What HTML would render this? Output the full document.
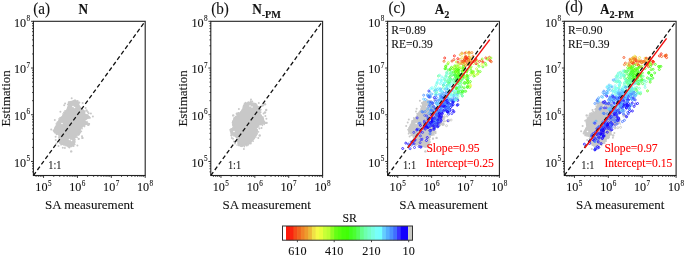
<!DOCTYPE html>
<html><head><meta charset="utf-8"><style>
html,body{margin:0;padding:0;background:#fff;width:685px;height:255px;overflow:hidden}
svg{display:block;filter:blur(0.3px)}
text{stroke:#111;stroke-width:0.1px}
text[fill="#f00"]{stroke:#f00}
</style></head><body>
<svg width="685" height="255" viewBox="0 0 685 255" font-family='"Liberation Serif", serif' fill="#111">
<polygon points="67.7,103.0 68.8,101.3 71.8,100.7 73.6,100.1 77.1,100.7 78.9,102.5 79.4,104.8 80.9,107.2 83.0,109.0 85.3,111.3 85.3,113.7 87.7,114.8 90.0,116.6 90.6,118.4 87.7,119.0 85.3,120.7 88.9,123.0 90.0,123.8 85.3,125.5 83.0,126.7 81.8,127.9 80.6,130.2 81.2,132.6 79.4,135.0 77.1,136.0 75.3,138.5 75.3,142.0 74.7,145.0 71.8,147.3 68.3,147.3 66.5,145.6 61.8,145.0 59.4,143.8 58.8,142.0 59.4,138.5 58.2,135.0 54.7,133.2 53.5,130.2 54.1,127.9 55.9,124.9 57.0,122.0 59.4,119.0 61.8,116.0 64.1,112.5 66.5,109.0 67.7,105.4" fill="#c8c8c8"/><g fill="#c8c8c8"><circle cx="68.8" cy="102.4" r="1.03"/><circle cx="69.9" cy="102.4" r="0.76"/><circle cx="71.3" cy="102.5" r="0.91"/><circle cx="73.7" cy="101.4" r="1.08"/><circle cx="71.7" cy="98.3" r="1.0"/><circle cx="74.7" cy="100.5" r="1.07"/><circle cx="75.3" cy="100.6" r="1.08"/><circle cx="76.8" cy="101.2" r="0.78"/><circle cx="77.6" cy="101.1" r="1.03"/><circle cx="77.7" cy="101.9" r="1.00"/><circle cx="79.3" cy="102.6" r="1.10"/><circle cx="78.2" cy="103.8" r="0.93"/><circle cx="82.6" cy="103.1" r="1.0"/><circle cx="78.6" cy="106.8" r="0.91"/><circle cx="80.1" cy="107.6" r="0.74"/><circle cx="81.2" cy="108.5" r="0.77"/><circle cx="80.6" cy="109.0" r="0.72"/><circle cx="82.6" cy="110.0" r="0.84"/><circle cx="84.2" cy="111.1" r="0.76"/><circle cx="85.6" cy="107.9" r="1.0"/><circle cx="84.8" cy="111.7" r="0.75"/><circle cx="83.7" cy="112.7" r="1.03"/><circle cx="88.7" cy="113.2" r="1.0"/><circle cx="85.7" cy="114.6" r="0.81"/><circle cx="86.6" cy="115.0" r="0.83"/><circle cx="87.8" cy="112.0" r="1.0"/><circle cx="87.6" cy="115.3" r="0.97"/><circle cx="88.6" cy="117.5" r="0.74"/><circle cx="90.9" cy="113.6" r="1.0"/><circle cx="89.2" cy="117.3" r="1.00"/><circle cx="92.9" cy="116.4" r="1.0"/><circle cx="90.0" cy="117.8" r="0.74"/><circle cx="88.2" cy="117.4" r="0.79"/><circle cx="86.0" cy="118.4" r="1.02"/><circle cx="84.2" cy="119.1" r="0.98"/><circle cx="84.6" cy="122.0" r="0.86"/><circle cx="87.0" cy="121.6" r="0.78"/><circle cx="87.6" cy="123.6" r="0.97"/><circle cx="89.4" cy="123.9" r="0.79"/><circle cx="89.1" cy="124.0" r="0.73"/><circle cx="88.0" cy="124.9" r="0.86"/><circle cx="86.8" cy="123.7" r="0.79"/><circle cx="85.3" cy="124.2" r="0.82"/><circle cx="84.6" cy="126.6" r="0.81"/><circle cx="83.6" cy="125.7" r="1.00"/><circle cx="81.9" cy="127.1" r="0.87"/><circle cx="82.0" cy="128.7" r="0.83"/><circle cx="80.4" cy="130.0" r="0.75"/><circle cx="79.4" cy="130.6" r="1.09"/><circle cx="81.4" cy="131.4" r="0.82"/><circle cx="79.6" cy="132.3" r="0.70"/><circle cx="78.6" cy="133.9" r="1.02"/><circle cx="82.0" cy="136.2" r="1.0"/><circle cx="78.6" cy="134.7" r="1.08"/><circle cx="76.6" cy="135.1" r="0.71"/><circle cx="77.0" cy="137.2" r="0.92"/><circle cx="75.6" cy="137.0" r="0.98"/><circle cx="78.6" cy="138.8" r="1.0"/><circle cx="73.9" cy="139.0" r="0.75"/><circle cx="74.7" cy="139.7" r="0.97"/><circle cx="74.4" cy="141.5" r="0.84"/><circle cx="78.7" cy="138.9" r="1.0"/><circle cx="74.9" cy="142.0" r="0.77"/><circle cx="74.8" cy="144.4" r="0.81"/><circle cx="77.4" cy="145.4" r="1.0"/><circle cx="73.6" cy="146.0" r="0.95"/><circle cx="73.4" cy="145.3" r="0.71"/><circle cx="71.6" cy="145.7" r="0.75"/><circle cx="71.3" cy="145.6" r="0.80"/><circle cx="69.4" cy="147.6" r="0.95"/><circle cx="68.9" cy="146.5" r="1.06"/><circle cx="68.3" cy="146.4" r="1.09"/><circle cx="66.8" cy="145.6" r="0.95"/><circle cx="64.9" cy="148.0" r="1.0"/><circle cx="66.3" cy="145.2" r="0.97"/><circle cx="65.1" cy="145.7" r="0.79"/><circle cx="63.8" cy="144.9" r="0.75"/><circle cx="63.5" cy="143.7" r="1.01"/><circle cx="62.8" cy="147.7" r="1.0"/><circle cx="61.1" cy="144.7" r="0.87"/><circle cx="60.3" cy="142.7" r="0.79"/><circle cx="58.5" cy="146.0" r="1.0"/><circle cx="59.8" cy="142.2" r="1.01"/><circle cx="56.4" cy="143.5" r="1.0"/><circle cx="60.1" cy="141.5" r="1.03"/><circle cx="59.8" cy="140.2" r="0.82"/><circle cx="60.9" cy="139.7" r="0.89"/><circle cx="55.7" cy="140.1" r="1.0"/><circle cx="58.8" cy="137.8" r="0.90"/><circle cx="59.9" cy="136.7" r="0.99"/><circle cx="59.2" cy="136.1" r="0.94"/><circle cx="55.6" cy="136.7" r="1.0"/><circle cx="57.6" cy="133.8" r="0.95"/><circle cx="56.6" cy="134.3" r="0.89"/><circle cx="56.1" cy="132.8" r="0.84"/><circle cx="55.0" cy="132.6" r="1.00"/><circle cx="54.1" cy="131.6" r="0.95"/><circle cx="53.6" cy="130.5" r="1.04"/><circle cx="55.8" cy="128.7" r="0.79"/><circle cx="51.2" cy="129.5" r="1.0"/><circle cx="55.5" cy="128.3" r="0.96"/><circle cx="55.8" cy="126.9" r="1.03"/><circle cx="57.1" cy="125.9" r="0.87"/><circle cx="56.2" cy="123.9" r="0.78"/><circle cx="57.4" cy="122.5" r="0.98"/><circle cx="58.1" cy="122.3" r="0.78"/><circle cx="59.0" cy="120.9" r="0.74"/><circle cx="59.7" cy="120.2" r="0.91"/><circle cx="54.8" cy="120.0" r="1.0"/><circle cx="59.1" cy="119.0" r="0.88"/><circle cx="60.2" cy="117.7" r="0.97"/><circle cx="62.0" cy="117.1" r="0.86"/><circle cx="63.1" cy="115.9" r="0.79"/><circle cx="62.8" cy="113.9" r="0.75"/><circle cx="64.1" cy="112.7" r="1.09"/><circle cx="60.4" cy="111.8" r="1.0"/><circle cx="65.0" cy="112.8" r="1.00"/><circle cx="65.1" cy="111.0" r="0.96"/><circle cx="67.6" cy="109.5" r="0.78"/><circle cx="67.8" cy="109.5" r="0.82"/><circle cx="68.1" cy="107.9" r="1.06"/><circle cx="69.0" cy="105.9" r="1.08"/><circle cx="64.2" cy="105.2" r="1.0"/><circle cx="67.6" cy="104.5" r="0.74"/><circle cx="69.6" cy="103.8" r="1.04"/><circle cx="65.1" cy="103.6" r="1.0"/><circle cx="82.4" cy="137.9" r="1.2"/><circle cx="71.2" cy="151.4" r="1.2"/><circle cx="86.5" cy="110.5" r="1.2"/><circle cx="88.5" cy="124.8" r="1.2"/></g><g fill="#fff"><circle cx="73.0" cy="106.5" r="0.8"/><circle cx="74.5" cy="107.5" r="0.8"/><circle cx="62.0" cy="123.5" r="0.8"/><circle cx="69.5" cy="139.5" r="0.8"/><circle cx="71.5" cy="140.5" r="0.8"/></g>
<path d="M36.05,175.50v1.3 M33.40,171.85h-1.3 M38.32,175.50v1.3 M33.40,168.72h-1.3 M40.28,175.50v1.3 M33.40,166.01h-1.3 M42.01,175.50v1.3 M33.40,163.62h-1.3 M43.56,175.50v2.4 M33.40,161.48h-2.4 M53.76,175.50v1.3 M33.40,147.42h-1.3 M59.73,175.50v1.3 M33.40,139.19h-1.3 M63.96,175.50v1.3 M33.40,133.35h-1.3 M67.24,175.50v1.3 M33.40,128.82h-1.3 M69.93,175.50v1.3 M33.40,125.12h-1.3 M72.19,175.50v1.3 M33.40,121.99h-1.3 M74.16,175.50v1.3 M33.40,119.28h-1.3 M75.89,175.50v1.3 M33.40,116.89h-1.3 M77.44,175.50v2.4 M33.40,114.75h-2.4 M87.64,175.50v1.3 M33.40,100.69h-1.3 M93.61,175.50v1.3 M33.40,92.46h-1.3 M97.84,175.50v1.3 M33.40,86.62h-1.3 M101.12,175.50v1.3 M33.40,82.09h-1.3 M103.81,175.50v1.3 M33.40,78.39h-1.3 M106.07,175.50v1.3 M33.40,75.27h-1.3 M108.04,175.50v1.3 M33.40,72.56h-1.3 M109.77,175.50v1.3 M33.40,70.17h-1.3 M111.32,175.50v2.4 M33.40,68.03h-2.4 M121.52,175.50v1.3 M33.40,53.96h-1.3 M127.49,175.50v1.3 M33.40,45.73h-1.3 M131.72,175.50v1.3 M33.40,39.89h-1.3 M135.00,175.50v1.3 M33.40,35.37h-1.3 M137.68,175.50v1.3 M33.40,31.67h-1.3 M139.95,175.50v1.3 M33.40,28.54h-1.3 M141.92,175.50v1.3 M33.40,25.83h-1.3 M143.65,175.50v1.3 M33.40,23.44h-1.3 M145.20,175.50v2.4 M33.40,21.30h-2.4" stroke="#222" stroke-width="0.9" fill="none"/>
<rect x="33.40" y="21.30" width="111.80" height="154.20" fill="none" stroke="#222" stroke-width="1.1"/>
<line x1="33.40" y1="175.50" x2="145.20" y2="21.30" stroke="#111" stroke-width="1.3" stroke-dasharray="4.2 2.6"/>
<text transform="translate(35.36,190.6) scale(1,1.1)" font-size="12.2">10</text><text x="47.96" y="186.0" font-size="7.2">5</text>
<text transform="translate(14.00,166.78) scale(1,1.1)" font-size="12.2">10</text><text x="26.60" y="161.18" font-size="7.2">5</text>
<text transform="translate(69.24,190.6) scale(1,1.1)" font-size="12.2">10</text><text x="81.84" y="186.0" font-size="7.2">6</text>
<text transform="translate(14.00,120.05) scale(1,1.1)" font-size="12.2">10</text><text x="26.60" y="114.45" font-size="7.2">6</text>
<text transform="translate(103.12,190.6) scale(1,1.1)" font-size="12.2">10</text><text x="115.72" y="186.0" font-size="7.2">7</text>
<text transform="translate(14.00,73.33) scale(1,1.1)" font-size="12.2">10</text><text x="26.60" y="67.73" font-size="7.2">7</text>
<text transform="translate(137.00,190.6) scale(1,1.1)" font-size="12.2">10</text><text x="149.60" y="186.0" font-size="7.2">8</text>
<text transform="translate(14.00,26.60) scale(1,1.1)" font-size="12.2">10</text><text x="26.60" y="21.00" font-size="7.2">8</text>
<text x="89.30" y="208.9" font-size="13" text-anchor="middle">SA measurement</text>
<text transform="translate(9.80,98.40) rotate(-90)" font-size="13" text-anchor="middle">Estimation</text>
<text transform="translate(48.20,169.2) scale(0.88,1)" font-size="11.8" fill="#222">1:1</text>
<polygon points="243.8,103.7 245.6,102.5 250.3,101.9 253.3,102.5 256.2,103.1 257.4,105.4 259.2,106.6 260.5,109.0 260.3,113.7 262.0,116.0 263.9,117.8 264.0,120.0 265.6,123.0 266.8,123.2 263.9,124.4 259.2,125.5 256.8,128.5 258.0,131.4 257.4,135.0 255.6,137.3 253.3,139.7 250.9,143.8 246.2,145.6 241.5,146.7 238.0,145.6 237.4,142.6 236.8,138.5 234.4,136.1 230.9,135.5 230.3,130.8 232.7,126.7 232.1,122.0 233.5,118.0 235.6,116.6 238.0,113.0 241.5,111.3 242.7,106.6" fill="#c8c8c8"/><g fill="#c8c8c8"><circle cx="244.5" cy="103.2" r="0.79"/><circle cx="245.6" cy="102.4" r="0.74"/><circle cx="247.7" cy="103.1" r="0.82"/><circle cx="248.4" cy="102.2" r="1.02"/><circle cx="250.6" cy="103.2" r="1.08"/><circle cx="250.7" cy="101.4" r="1.09"/><circle cx="252.2" cy="101.5" r="1.02"/><circle cx="251.0" cy="99.6" r="1.0"/><circle cx="253.1" cy="103.6" r="0.85"/><circle cx="254.7" cy="104.3" r="1.08"/><circle cx="255.9" cy="104.3" r="0.82"/><circle cx="256.8" cy="105.0" r="0.85"/><circle cx="258.8" cy="103.1" r="1.0"/><circle cx="257.6" cy="107.4" r="1.08"/><circle cx="259.8" cy="106.8" r="0.86"/><circle cx="259.2" cy="109.2" r="0.83"/><circle cx="262.2" cy="105.4" r="1.0"/><circle cx="260.8" cy="109.6" r="0.97"/><circle cx="260.1" cy="110.2" r="1.04"/><circle cx="260.7" cy="112.2" r="0.86"/><circle cx="260.0" cy="112.8" r="1.02"/><circle cx="260.5" cy="115.5" r="0.91"/><circle cx="261.2" cy="115.2" r="0.79"/><circle cx="263.6" cy="113.4" r="1.0"/><circle cx="261.9" cy="117.0" r="0.78"/><circle cx="263.0" cy="116.9" r="0.75"/><circle cx="265.4" cy="116.1" r="1.0"/><circle cx="262.5" cy="118.4" r="0.72"/><circle cx="263.3" cy="120.0" r="1.05"/><circle cx="266.4" cy="118.7" r="1.0"/><circle cx="263.5" cy="121.4" r="1.10"/><circle cx="264.4" cy="122.0" r="0.97"/><circle cx="264.7" cy="122.4" r="0.89"/><circle cx="265.5" cy="122.9" r="0.93"/><circle cx="266.7" cy="122.9" r="1.07"/><circle cx="264.3" cy="124.5" r="0.71"/><circle cx="262.5" cy="125.5" r="0.77"/><circle cx="261.7" cy="123.5" r="1.03"/><circle cx="261.1" cy="124.7" r="0.74"/><circle cx="259.6" cy="124.6" r="0.74"/><circle cx="258.8" cy="126.9" r="0.78"/><circle cx="257.3" cy="126.9" r="0.91"/><circle cx="256.9" cy="127.5" r="0.85"/><circle cx="261.5" cy="128.0" r="1.0"/><circle cx="257.1" cy="129.7" r="0.77"/><circle cx="257.1" cy="130.3" r="1.06"/><circle cx="259.4" cy="128.5" r="1.0"/><circle cx="258.5" cy="131.8" r="0.85"/><circle cx="256.8" cy="133.0" r="0.79"/><circle cx="257.0" cy="133.8" r="0.82"/><circle cx="255.6" cy="134.8" r="1.05"/><circle cx="255.2" cy="135.8" r="0.71"/><circle cx="258.3" cy="138.1" r="1.0"/><circle cx="255.9" cy="137.3" r="0.73"/><circle cx="254.5" cy="138.4" r="0.70"/><circle cx="253.4" cy="139.2" r="1.07"/><circle cx="251.9" cy="140.3" r="0.89"/><circle cx="253.1" cy="141.1" r="0.96"/><circle cx="250.0" cy="142.0" r="0.96"/><circle cx="250.7" cy="143.5" r="1.07"/><circle cx="250.0" cy="142.4" r="1.04"/><circle cx="248.3" cy="144.3" r="0.92"/><circle cx="247.9" cy="145.5" r="0.71"/><circle cx="246.6" cy="145.4" r="1.05"/><circle cx="246.1" cy="143.6" r="0.97"/><circle cx="244.3" cy="146.5" r="0.91"/><circle cx="242.7" cy="145.3" r="0.72"/><circle cx="241.9" cy="146.1" r="1.04"/><circle cx="243.9" cy="149.1" r="1.0"/><circle cx="240.8" cy="145.5" r="0.91"/><circle cx="240.6" cy="145.9" r="0.97"/><circle cx="238.9" cy="145.4" r="0.90"/><circle cx="237.1" cy="145.1" r="0.80"/><circle cx="238.3" cy="143.4" r="0.95"/><circle cx="235.0" cy="143.5" r="1.0"/><circle cx="237.2" cy="141.2" r="1.07"/><circle cx="238.2" cy="140.7" r="0.80"/><circle cx="236.8" cy="139.8" r="0.71"/><circle cx="234.0" cy="141.6" r="1.0"/><circle cx="236.6" cy="137.0" r="0.88"/><circle cx="235.8" cy="136.6" r="0.79"/><circle cx="235.2" cy="135.7" r="1.07"/><circle cx="233.0" cy="138.7" r="1.0"/><circle cx="233.9" cy="136.0" r="0.76"/><circle cx="233.5" cy="134.3" r="0.94"/><circle cx="231.5" cy="136.1" r="0.76"/><circle cx="231.8" cy="137.9" r="1.0"/><circle cx="231.2" cy="135.2" r="1.02"/><circle cx="231.2" cy="133.6" r="0.74"/><circle cx="230.8" cy="131.8" r="0.96"/><circle cx="230.5" cy="131.6" r="0.70"/><circle cx="230.4" cy="129.9" r="1.09"/><circle cx="231.4" cy="129.0" r="1.08"/><circle cx="233.5" cy="128.6" r="1.02"/><circle cx="234.2" cy="127.8" r="0.93"/><circle cx="233.5" cy="125.6" r="1.10"/><circle cx="233.3" cy="125.4" r="0.92"/><circle cx="232.9" cy="124.2" r="1.04"/><circle cx="232.3" cy="122.8" r="0.73"/><circle cx="232.9" cy="121.5" r="0.97"/><circle cx="233.6" cy="120.4" r="0.84"/><circle cx="234.8" cy="119.2" r="0.97"/><circle cx="234.4" cy="118.1" r="1.02"/><circle cx="235.7" cy="117.5" r="1.05"/><circle cx="235.6" cy="116.6" r="0.90"/><circle cx="238.1" cy="115.6" r="0.86"/><circle cx="238.3" cy="113.5" r="0.81"/><circle cx="238.3" cy="113.1" r="1.03"/><circle cx="240.4" cy="113.8" r="0.75"/><circle cx="241.1" cy="111.7" r="0.95"/><circle cx="238.9" cy="108.9" r="1.0"/><circle cx="242.6" cy="111.3" r="0.72"/><circle cx="242.1" cy="110.4" r="1.08"/><circle cx="244.0" cy="109.3" r="0.74"/><circle cx="244.0" cy="107.9" r="0.78"/><circle cx="243.7" cy="105.9" r="0.96"/><circle cx="244.8" cy="105.5" r="0.86"/><circle cx="236.8" cy="113.7" r="1.2"/><circle cx="233.2" cy="115.4" r="1.2"/><circle cx="265.0" cy="104.2" r="1.2"/><circle cx="262.7" cy="105.4" r="1.2"/><circle cx="266.2" cy="110.0" r="1.2"/><circle cx="265.0" cy="112.5" r="1.2"/><circle cx="259.7" cy="135.5" r="1.2"/></g><g fill="#fff"><circle cx="250.0" cy="106.0" r="0.8"/><circle cx="252.0" cy="107.0" r="0.8"/><circle cx="234.0" cy="131.5" r="0.8"/></g>
<path d="M213.45,175.50v1.3 M210.80,171.85h-1.3 M215.72,175.50v1.3 M210.80,168.72h-1.3 M217.68,175.50v1.3 M210.80,166.01h-1.3 M219.41,175.50v1.3 M210.80,163.62h-1.3 M220.96,175.50v2.4 M210.80,161.48h-2.4 M231.16,175.50v1.3 M210.80,147.42h-1.3 M237.13,175.50v1.3 M210.80,139.19h-1.3 M241.36,175.50v1.3 M210.80,133.35h-1.3 M244.64,175.50v1.3 M210.80,128.82h-1.3 M247.33,175.50v1.3 M210.80,125.12h-1.3 M249.59,175.50v1.3 M210.80,121.99h-1.3 M251.56,175.50v1.3 M210.80,119.28h-1.3 M253.29,175.50v1.3 M210.80,116.89h-1.3 M254.84,175.50v2.4 M210.80,114.75h-2.4 M265.04,175.50v1.3 M210.80,100.69h-1.3 M271.01,175.50v1.3 M210.80,92.46h-1.3 M275.24,175.50v1.3 M210.80,86.62h-1.3 M278.52,175.50v1.3 M210.80,82.09h-1.3 M281.21,175.50v1.3 M210.80,78.39h-1.3 M283.47,175.50v1.3 M210.80,75.27h-1.3 M285.44,175.50v1.3 M210.80,72.56h-1.3 M287.17,175.50v1.3 M210.80,70.17h-1.3 M288.72,175.50v2.4 M210.80,68.03h-2.4 M298.92,175.50v1.3 M210.80,53.96h-1.3 M304.89,175.50v1.3 M210.80,45.73h-1.3 M309.12,175.50v1.3 M210.80,39.89h-1.3 M312.40,175.50v1.3 M210.80,35.37h-1.3 M315.08,175.50v1.3 M210.80,31.67h-1.3 M317.35,175.50v1.3 M210.80,28.54h-1.3 M319.32,175.50v1.3 M210.80,25.83h-1.3 M321.05,175.50v1.3 M210.80,23.44h-1.3 M322.60,175.50v2.4 M210.80,21.30h-2.4" stroke="#222" stroke-width="0.9" fill="none"/>
<rect x="210.80" y="21.30" width="111.80" height="154.20" fill="none" stroke="#222" stroke-width="1.1"/>
<line x1="210.80" y1="175.50" x2="322.60" y2="21.30" stroke="#111" stroke-width="1.3" stroke-dasharray="4.2 2.6"/>
<text transform="translate(212.76,190.6) scale(1,1.1)" font-size="12.2">10</text><text x="225.36" y="186.0" font-size="7.2">5</text>
<text transform="translate(191.40,166.78) scale(1,1.1)" font-size="12.2">10</text><text x="204.00" y="161.18" font-size="7.2">5</text>
<text transform="translate(246.64,190.6) scale(1,1.1)" font-size="12.2">10</text><text x="259.24" y="186.0" font-size="7.2">6</text>
<text transform="translate(191.40,120.05) scale(1,1.1)" font-size="12.2">10</text><text x="204.00" y="114.45" font-size="7.2">6</text>
<text transform="translate(280.52,190.6) scale(1,1.1)" font-size="12.2">10</text><text x="293.12" y="186.0" font-size="7.2">7</text>
<text transform="translate(191.40,73.33) scale(1,1.1)" font-size="12.2">10</text><text x="204.00" y="67.73" font-size="7.2">7</text>
<text transform="translate(314.40,190.6) scale(1,1.1)" font-size="12.2">10</text><text x="327.00" y="186.0" font-size="7.2">8</text>
<text transform="translate(191.40,26.60) scale(1,1.1)" font-size="12.2">10</text><text x="204.00" y="21.00" font-size="7.2">8</text>
<text x="266.70" y="208.9" font-size="13" text-anchor="middle">SA measurement</text>
<text transform="translate(187.20,98.40) rotate(-90)" font-size="13" text-anchor="middle">Estimation</text>
<text transform="translate(227.90,169.2) scale(0.88,1)" font-size="11.8" fill="#222">1:1</text>
<polygon points="421.9,103.0 423.0,101.3 426.0,100.7 427.8,100.1 431.3,100.7 433.1,102.5 433.6,104.8 435.1,107.2 437.2,109.0 439.5,111.3 439.5,113.7 441.9,114.8 444.2,116.6 444.8,118.4 441.9,119.0 439.5,120.7 443.1,123.0 444.2,123.8 439.5,125.5 437.2,126.7 436.0,127.9 434.8,130.2 435.4,132.6 433.6,135.0 431.3,136.0 429.5,138.5 429.5,142.0 428.9,145.0 426.0,147.3 422.5,147.3 420.7,145.6 416.0,145.0 413.6,143.8 413.0,142.0 413.6,138.5 412.4,135.0 408.9,133.2 407.7,130.2 408.3,127.9 410.1,124.9 411.2,122.0 413.6,119.0 416.0,116.0 418.3,112.5 420.7,109.0 421.9,105.4" fill="#c8c8c8"/><g fill="#c8c8c8"><circle cx="423.5" cy="101.6" r="0.78"/><circle cx="419.9" cy="100.7" r="1.0"/><circle cx="424.7" cy="101.8" r="0.96"/><circle cx="424.5" cy="102.6" r="0.97"/><circle cx="427.3" cy="100.1" r="0.82"/><circle cx="428.7" cy="101.4" r="0.74"/><circle cx="429.5" cy="101.6" r="0.81"/><circle cx="431.4" cy="101.2" r="0.80"/><circle cx="430.1" cy="96.9" r="1.0"/><circle cx="431.4" cy="100.9" r="0.79"/><circle cx="433.3" cy="102.8" r="0.80"/><circle cx="434.1" cy="100.1" r="1.0"/><circle cx="432.5" cy="103.6" r="0.72"/><circle cx="432.3" cy="105.0" r="0.76"/><circle cx="433.4" cy="106.3" r="0.81"/><circle cx="434.4" cy="106.7" r="0.88"/><circle cx="434.8" cy="108.7" r="0.89"/><circle cx="436.9" cy="108.7" r="1.05"/><circle cx="437.8" cy="109.0" r="0.72"/><circle cx="439.1" cy="111.0" r="0.74"/><circle cx="440.8" cy="108.2" r="1.0"/><circle cx="439.6" cy="112.8" r="0.71"/><circle cx="438.9" cy="113.7" r="0.84"/><circle cx="440.8" cy="114.4" r="0.77"/><circle cx="441.1" cy="114.7" r="0.97"/><circle cx="441.6" cy="115.3" r="0.70"/><circle cx="443.9" cy="117.0" r="1.05"/><circle cx="444.7" cy="117.8" r="0.85"/><circle cx="447.2" cy="116.4" r="1.0"/><circle cx="443.6" cy="117.7" r="0.84"/><circle cx="442.8" cy="119.5" r="0.83"/><circle cx="440.7" cy="118.7" r="0.99"/><circle cx="440.3" cy="119.5" r="0.79"/><circle cx="443.5" cy="121.7" r="1.0"/><circle cx="440.1" cy="121.9" r="0.78"/><circle cx="440.5" cy="122.4" r="0.98"/><circle cx="441.9" cy="124.1" r="0.74"/><circle cx="443.8" cy="119.6" r="1.0"/><circle cx="443.7" cy="124.5" r="0.96"/><circle cx="444.9" cy="121.3" r="1.0"/><circle cx="443.7" cy="123.8" r="0.87"/><circle cx="442.7" cy="123.7" r="0.88"/><circle cx="440.6" cy="124.2" r="1.05"/><circle cx="440.0" cy="125.4" r="0.96"/><circle cx="439.2" cy="124.6" r="0.96"/><circle cx="437.4" cy="124.9" r="1.02"/><circle cx="435.6" cy="126.6" r="0.86"/><circle cx="435.0" cy="128.3" r="1.00"/><circle cx="434.4" cy="129.6" r="1.07"/><circle cx="434.0" cy="130.3" r="1.05"/><circle cx="435.6" cy="131.5" r="0.93"/><circle cx="435.6" cy="133.1" r="1.07"/><circle cx="433.9" cy="134.8" r="0.89"/><circle cx="432.6" cy="134.1" r="0.85"/><circle cx="432.0" cy="135.1" r="0.86"/><circle cx="432.9" cy="138.8" r="1.0"/><circle cx="430.0" cy="136.3" r="1.01"/><circle cx="429.7" cy="137.4" r="1.09"/><circle cx="433.1" cy="138.4" r="1.0"/><circle cx="429.7" cy="139.8" r="0.90"/><circle cx="427.5" cy="139.8" r="0.85"/><circle cx="430.0" cy="141.9" r="0.99"/><circle cx="429.4" cy="143.3" r="0.73"/><circle cx="429.8" cy="144.7" r="0.94"/><circle cx="428.7" cy="145.6" r="0.87"/><circle cx="427.2" cy="146.7" r="0.80"/><circle cx="425.7" cy="145.9" r="0.98"/><circle cx="426.1" cy="146.9" r="0.81"/><circle cx="425.1" cy="146.9" r="0.86"/><circle cx="422.7" cy="145.8" r="1.06"/><circle cx="422.6" cy="146.2" r="0.92"/><circle cx="421.2" cy="145.5" r="1.04"/><circle cx="420.8" cy="144.2" r="1.02"/><circle cx="419.6" cy="145.5" r="1.07"/><circle cx="418.4" cy="143.7" r="0.92"/><circle cx="416.8" cy="144.2" r="0.84"/><circle cx="415.7" cy="145.2" r="1.04"/><circle cx="414.4" cy="144.4" r="0.95"/><circle cx="415.2" cy="143.0" r="0.91"/><circle cx="410.1" cy="144.7" r="1.0"/><circle cx="414.0" cy="141.1" r="0.79"/><circle cx="413.0" cy="140.5" r="0.75"/><circle cx="414.0" cy="139.3" r="0.90"/><circle cx="415.0" cy="137.8" r="0.94"/><circle cx="413.3" cy="136.7" r="0.94"/><circle cx="412.9" cy="135.0" r="0.99"/><circle cx="411.2" cy="135.2" r="1.04"/><circle cx="411.4" cy="132.7" r="0.71"/><circle cx="408.6" cy="133.7" r="0.90"/><circle cx="409.6" cy="136.5" r="1.0"/><circle cx="409.0" cy="132.0" r="0.77"/><circle cx="408.2" cy="129.8" r="0.77"/><circle cx="408.1" cy="129.6" r="0.83"/><circle cx="409.8" cy="128.8" r="0.86"/><circle cx="408.9" cy="127.9" r="0.72"/><circle cx="409.9" cy="126.9" r="0.91"/><circle cx="410.3" cy="126.2" r="0.82"/><circle cx="406.2" cy="126.1" r="1.0"/><circle cx="410.3" cy="125.0" r="0.79"/><circle cx="412.6" cy="123.3" r="0.89"/><circle cx="407.7" cy="122.4" r="1.0"/><circle cx="412.6" cy="121.5" r="1.03"/><circle cx="412.3" cy="121.1" r="1.09"/><circle cx="414.2" cy="119.8" r="0.79"/><circle cx="408.8" cy="119.6" r="1.0"/><circle cx="413.8" cy="118.0" r="0.89"/><circle cx="415.5" cy="118.8" r="1.06"/><circle cx="416.8" cy="117.3" r="0.70"/><circle cx="417.2" cy="116.7" r="0.84"/><circle cx="417.2" cy="113.7" r="0.94"/><circle cx="417.9" cy="113.9" r="0.84"/><circle cx="416.0" cy="111.5" r="1.0"/><circle cx="419.2" cy="112.5" r="0.91"/><circle cx="420.6" cy="110.8" r="1.00"/><circle cx="421.3" cy="111.0" r="0.70"/><circle cx="416.6" cy="108.7" r="1.0"/><circle cx="421.1" cy="108.9" r="0.88"/><circle cx="421.7" cy="107.6" r="0.99"/><circle cx="420.8" cy="106.1" r="0.88"/><circle cx="423.0" cy="104.5" r="1.07"/><circle cx="421.9" cy="103.0" r="1.00"/><circle cx="436.6" cy="137.9" r="1.2"/><circle cx="425.4" cy="151.4" r="1.2"/><circle cx="440.7" cy="110.5" r="1.2"/><circle cx="442.7" cy="124.8" r="1.2"/></g><g fill="#fff"><circle cx="427.2" cy="106.5" r="0.8"/><circle cx="428.7" cy="107.5" r="0.8"/><circle cx="416.2" cy="123.5" r="0.8"/><circle cx="423.7" cy="139.5" r="0.8"/><circle cx="425.7" cy="140.5" r="0.8"/></g>
<g fill="none" stroke-width="0.8"><circle cx="445.5" cy="99.6" r="1.0" stroke="#55afff"/><circle cx="449.5" cy="83.3" r="1.0" stroke="#78ffe1"/><circle cx="426.4" cy="140.5" r="1.0" stroke="#1400ff"/><circle cx="468.7" cy="57.4" r="1.0" stroke="#ff190a"/><circle cx="459.0" cy="87.3" r="1.0" stroke="#6effaf"/><circle cx="464.2" cy="68.2" r="1.0" stroke="#8cff23"/><circle cx="476.7" cy="60.9" r="1.0" stroke="#b9ff32"/><circle cx="434.0" cy="111.5" r="1.0" stroke="#416eff"/><circle cx="475.2" cy="75.6" r="1.0" stroke="#c8ff37"/><circle cx="435.6" cy="108.7" r="1.0" stroke="#1400ff"/><circle cx="468.5" cy="59.3" r="1.0" stroke="#fa230f"/><circle cx="458.1" cy="96.2" r="1.0" stroke="#73ffc8"/><circle cx="454.9" cy="75.0" r="1.0" stroke="#4bff32"/><circle cx="470.9" cy="70.1" r="1.0" stroke="#64ff14"/><circle cx="457.1" cy="77.8" r="1.0" stroke="#41ff05"/><circle cx="467.5" cy="64.3" r="1.0" stroke="#c8ff37"/><circle cx="437.3" cy="111.3" r="1.0" stroke="#64cdff"/><circle cx="429.8" cy="130.5" r="1.0" stroke="#1400ff"/><circle cx="411.4" cy="145.1" r="1.0" stroke="#416eff"/><circle cx="436.4" cy="124.0" r="1.0" stroke="#4b91ff"/><circle cx="482.2" cy="59.0" r="1.0" stroke="#8cff23"/><circle cx="464.0" cy="63.0" r="1.0" stroke="#ee9b2d"/><circle cx="443.3" cy="85.2" r="1.0" stroke="#78fffa"/><circle cx="449.6" cy="90.4" r="1.0" stroke="#73ffff"/><circle cx="447.2" cy="96.9" r="1.0" stroke="#3732ff"/><circle cx="469.5" cy="63.4" r="1.0" stroke="#f08228"/><circle cx="462.7" cy="61.6" r="1.0" stroke="#ebb937"/><circle cx="454.3" cy="78.7" r="1.0" stroke="#55ff5a"/><circle cx="428.2" cy="118.8" r="1.0" stroke="#1400ff"/><circle cx="465.7" cy="91.3" r="1.0" stroke="#41ff05"/><circle cx="434.6" cy="118.3" r="1.0" stroke="#416eff"/><circle cx="452.6" cy="68.5" r="1.0" stroke="#8cff23"/><circle cx="466.8" cy="71.5" r="1.0" stroke="#55ff0f"/><circle cx="452.2" cy="89.8" r="1.0" stroke="#64cdff"/><circle cx="434.9" cy="93.8" r="1.0" stroke="#78ffe1"/><circle cx="442.6" cy="103.4" r="1.0" stroke="#4b91ff"/><circle cx="459.2" cy="68.3" r="1.0" stroke="#41ff05"/><circle cx="442.7" cy="98.0" r="1.0" stroke="#3732ff"/><circle cx="432.3" cy="119.4" r="1.0" stroke="#416eff"/><circle cx="467.5" cy="79.7" r="1.0" stroke="#8cff23"/><circle cx="462.8" cy="69.0" r="1.0" stroke="#64ff14"/><circle cx="425.4" cy="125.7" r="1.0" stroke="#1400ff"/><circle cx="420.1" cy="123.2" r="1.0" stroke="#4b91ff"/><circle cx="434.9" cy="122.4" r="1.0" stroke="#1400ff"/><circle cx="450.0" cy="109.7" r="1.0" stroke="#3732ff"/><circle cx="431.1" cy="106.8" r="1.0" stroke="#55afff"/><circle cx="448.0" cy="80.6" r="1.0" stroke="#55ff5a"/><circle cx="460.2" cy="59.5" r="1.0" stroke="#ebb937"/><circle cx="439.5" cy="113.7" r="1.0" stroke="#1400ff"/><circle cx="457.7" cy="98.9" r="1.0" stroke="#6effaf"/><circle cx="427.7" cy="109.2" r="1.0" stroke="#55afff"/><circle cx="456.4" cy="97.9" r="1.0" stroke="#64cdff"/><circle cx="458.2" cy="66.0" r="1.0" stroke="#8cff23"/><circle cx="443.5" cy="85.2" r="1.0" stroke="#78ffe1"/><circle cx="463.8" cy="76.6" r="1.0" stroke="#55ff0f"/><circle cx="443.2" cy="97.5" r="1.0" stroke="#4b91ff"/><circle cx="442.4" cy="113.7" r="1.0" stroke="#1400ff"/><circle cx="467.5" cy="59.4" r="1.0" stroke="#ee9b2d"/><circle cx="458.9" cy="73.2" r="1.0" stroke="#41ff05"/><circle cx="446.0" cy="75.9" r="1.0" stroke="#73ffc8"/><circle cx="440.1" cy="90.7" r="1.0" stroke="#78fffa"/><circle cx="448.6" cy="82.6" r="1.0" stroke="#78ffe1"/><circle cx="458.8" cy="90.8" r="1.0" stroke="#64ff8c"/><circle cx="438.4" cy="76.0" r="1.0" stroke="#64ff8c"/><circle cx="456.2" cy="82.6" r="1.0" stroke="#73ffc8"/><circle cx="460.7" cy="80.5" r="1.0" stroke="#55ff5a"/><circle cx="457.8" cy="58.7" r="1.0" stroke="#ff190a"/><circle cx="462.2" cy="93.3" r="1.0" stroke="#55ff5a"/><circle cx="452.8" cy="101.3" r="1.0" stroke="#4b91ff"/><circle cx="427.5" cy="94.9" r="1.0" stroke="#4b91ff"/><circle cx="445.2" cy="89.2" r="1.0" stroke="#4b91ff"/><circle cx="432.1" cy="103.0" r="1.0" stroke="#3732ff"/><circle cx="457.2" cy="105.1" r="1.0" stroke="#3732ff"/><circle cx="445.7" cy="103.8" r="1.0" stroke="#3732ff"/><circle cx="422.7" cy="112.0" r="1.0" stroke="#416eff"/><circle cx="447.9" cy="112.8" r="1.0" stroke="#55afff"/><circle cx="425.4" cy="99.6" r="1.0" stroke="#55afff"/><circle cx="466.9" cy="58.3" r="1.0" stroke="#f54b19"/><circle cx="441.4" cy="102.3" r="1.0" stroke="#4b91ff"/><circle cx="447.5" cy="95.4" r="1.0" stroke="#55afff"/><circle cx="438.5" cy="125.8" r="1.0" stroke="#416eff"/><circle cx="450.1" cy="98.3" r="1.0" stroke="#73ffff"/><circle cx="440.7" cy="94.8" r="1.0" stroke="#55afff"/><circle cx="431.9" cy="118.6" r="1.0" stroke="#1400ff"/><circle cx="458.3" cy="71.4" r="1.0" stroke="#64ff14"/><circle cx="424.9" cy="126.5" r="1.0" stroke="#3732ff"/><circle cx="436.3" cy="84.6" r="1.0" stroke="#78fffa"/><circle cx="439.3" cy="108.5" r="1.0" stroke="#1400ff"/><circle cx="442.2" cy="111.8" r="1.0" stroke="#1400ff"/><circle cx="460.7" cy="91.5" r="1.0" stroke="#41ff05"/><circle cx="455.9" cy="74.8" r="1.0" stroke="#8cff23"/><circle cx="449.5" cy="111.1" r="1.0" stroke="#1400ff"/><circle cx="475.1" cy="60.4" r="1.0" stroke="#fa230f"/><circle cx="430.8" cy="114.4" r="1.0" stroke="#1400ff"/><circle cx="451.9" cy="101.0" r="1.0" stroke="#1400ff"/><circle cx="446.4" cy="108.1" r="1.0" stroke="#1400ff"/><circle cx="450.3" cy="76.4" r="1.0" stroke="#4bff32"/><circle cx="466.2" cy="52.2" r="1.0" stroke="#f0e146"/><circle cx="440.7" cy="79.9" r="1.0" stroke="#73ffff"/><circle cx="453.5" cy="80.2" r="1.0" stroke="#55ff5a"/><circle cx="444.7" cy="106.9" r="1.0" stroke="#416eff"/><circle cx="471.2" cy="72.6" r="1.0" stroke="#55ff0f"/><circle cx="446.6" cy="107.6" r="1.0" stroke="#1400ff"/><circle cx="465.6" cy="65.6" r="1.0" stroke="#e6ff3c"/><circle cx="450.1" cy="99.7" r="1.0" stroke="#4b91ff"/><circle cx="444.1" cy="102.3" r="1.0" stroke="#4b91ff"/><circle cx="447.5" cy="120.8" r="1.0" stroke="#c8c8c4"/><circle cx="455.6" cy="71.8" r="1.0" stroke="#55ff0f"/><circle cx="449.7" cy="74.1" r="1.0" stroke="#6effaf"/><circle cx="448.0" cy="98.4" r="1.0" stroke="#55afff"/><circle cx="435.8" cy="114.5" r="1.0" stroke="#416eff"/><circle cx="489.4" cy="57.3" r="1.0" stroke="#f0641e"/><circle cx="457.1" cy="83.3" r="1.0" stroke="#73ffc8"/><circle cx="467.1" cy="87.0" r="1.0" stroke="#55ff5a"/><circle cx="469.5" cy="61.9" r="1.0" stroke="#f0641e"/><circle cx="447.9" cy="94.3" r="1.0" stroke="#64cdff"/><circle cx="444.4" cy="100.4" r="1.0" stroke="#3732ff"/><circle cx="457.3" cy="94.2" r="1.0" stroke="#64ff8c"/><circle cx="449.7" cy="100.1" r="1.0" stroke="#416eff"/><circle cx="440.2" cy="122.3" r="1.0" stroke="#c8c8c4"/><circle cx="461.6" cy="86.8" r="1.0" stroke="#4bff32"/><circle cx="420.4" cy="135.9" r="1.0" stroke="#3732ff"/><circle cx="439.5" cy="75.2" r="1.0" stroke="#78ffe1"/><circle cx="428.0" cy="96.0" r="1.0" stroke="#64cdff"/><circle cx="420.8" cy="132.0" r="1.0" stroke="#3732ff"/><circle cx="433.1" cy="125.5" r="1.0" stroke="#1400ff"/><circle cx="440.3" cy="121.9" r="1.0" stroke="#1400ff"/><circle cx="464.2" cy="91.3" r="1.0" stroke="#55ff5a"/><circle cx="445.8" cy="81.7" r="1.0" stroke="#73ffc8"/><circle cx="432.0" cy="122.4" r="1.0" stroke="#1400ff"/><circle cx="440.0" cy="116.6" r="1.0" stroke="#4b91ff"/><circle cx="436.0" cy="108.0" r="1.0" stroke="#55afff"/><circle cx="458.1" cy="70.0" r="1.0" stroke="#55ff0f"/><circle cx="441.5" cy="98.3" r="1.0" stroke="#64cdff"/><circle cx="464.7" cy="82.3" r="1.0" stroke="#64ff8c"/><circle cx="455.2" cy="69.6" r="1.0" stroke="#46ff0a"/><circle cx="433.9" cy="122.0" r="1.0" stroke="#1400ff"/><circle cx="434.7" cy="91.1" r="1.0" stroke="#64cdff"/><circle cx="429.7" cy="126.4" r="1.0" stroke="#1400ff"/><circle cx="431.6" cy="124.2" r="1.0" stroke="#4b91ff"/><circle cx="444.2" cy="104.1" r="1.0" stroke="#1400ff"/><circle cx="448.2" cy="120.7" r="1.0" stroke="#1400ff"/><circle cx="467.8" cy="78.7" r="1.0" stroke="#55ff5a"/><circle cx="437.0" cy="126.2" r="1.0" stroke="#3732ff"/><circle cx="424.3" cy="126.8" r="1.0" stroke="#1400ff"/><circle cx="441.0" cy="100.2" r="1.0" stroke="#416eff"/><circle cx="446.5" cy="103.5" r="1.0" stroke="#1400ff"/><circle cx="454.1" cy="95.1" r="1.0" stroke="#416eff"/><circle cx="442.8" cy="105.3" r="1.0" stroke="#416eff"/><circle cx="458.0" cy="67.5" r="1.0" stroke="#c8ff37"/><circle cx="446.9" cy="111.5" r="1.0" stroke="#1400ff"/><circle cx="444.6" cy="96.0" r="1.0" stroke="#55afff"/><circle cx="465.5" cy="56.3" r="1.0" stroke="#ebb937"/><circle cx="460.3" cy="54.7" r="1.0" stroke="#ebb937"/><circle cx="467.3" cy="63.0" r="1.0" stroke="#f54b19"/><circle cx="429.6" cy="91.9" r="1.0" stroke="#64cdff"/><circle cx="443.9" cy="102.4" r="1.0" stroke="#4b91ff"/><circle cx="458.2" cy="83.5" r="1.0" stroke="#41ff1e"/><circle cx="447.5" cy="77.8" r="1.0" stroke="#78ffe1"/><circle cx="456.8" cy="77.8" r="1.0" stroke="#55ff5a"/><circle cx="460.1" cy="87.0" r="1.0" stroke="#73ffc8"/><circle cx="450.6" cy="73.1" r="1.0" stroke="#64ff8c"/><circle cx="433.7" cy="129.4" r="1.0" stroke="#3732ff"/><circle cx="427.6" cy="127.5" r="1.0" stroke="#1400ff"/><circle cx="468.6" cy="64.5" r="1.0" stroke="#f08228"/><circle cx="433.9" cy="125.8" r="1.0" stroke="#1400ff"/><circle cx="450.5" cy="79.1" r="1.0" stroke="#55ff5a"/><circle cx="434.2" cy="118.6" r="1.0" stroke="#1400ff"/><circle cx="452.7" cy="74.6" r="1.0" stroke="#55ff5a"/><circle cx="427.2" cy="123.8" r="1.0" stroke="#1400ff"/><circle cx="432.2" cy="110.8" r="1.0" stroke="#3732ff"/><circle cx="434.4" cy="110.7" r="1.0" stroke="#416eff"/><circle cx="425.2" cy="111.5" r="1.0" stroke="#4b91ff"/><circle cx="460.9" cy="63.1" r="1.0" stroke="#ebb937"/><circle cx="463.3" cy="74.7" r="1.0" stroke="#41ff1e"/><circle cx="431.8" cy="125.3" r="1.0" stroke="#1400ff"/><circle cx="457.7" cy="100.4" r="1.0" stroke="#1400ff"/><circle cx="448.7" cy="110.7" r="1.0" stroke="#416eff"/><circle cx="447.6" cy="111.6" r="1.0" stroke="#1400ff"/><circle cx="445.7" cy="101.7" r="1.0" stroke="#1400ff"/><circle cx="457.7" cy="74.2" r="1.0" stroke="#64ff14"/><circle cx="453.9" cy="111.8" r="1.0" stroke="#1400ff"/><circle cx="462.6" cy="78.7" r="1.0" stroke="#55ff5a"/><circle cx="456.3" cy="99.2" r="1.0" stroke="#4b91ff"/><circle cx="427.9" cy="126.6" r="1.0" stroke="#4b91ff"/><circle cx="465.8" cy="78.4" r="1.0" stroke="#4bff32"/><circle cx="445.6" cy="109.1" r="1.0" stroke="#4b91ff"/><circle cx="449.4" cy="103.8" r="1.0" stroke="#64cdff"/><circle cx="451.1" cy="79.1" r="1.0" stroke="#64ff8c"/><circle cx="443.9" cy="106.5" r="1.0" stroke="#1400ff"/><circle cx="440.7" cy="98.0" r="1.0" stroke="#55afff"/><circle cx="441.4" cy="104.1" r="1.0" stroke="#55afff"/><circle cx="463.3" cy="74.9" r="1.0" stroke="#46ff0a"/><circle cx="482.9" cy="66.8" r="1.0" stroke="#64ff14"/><circle cx="442.6" cy="92.0" r="1.0" stroke="#55afff"/><circle cx="441.6" cy="106.9" r="1.0" stroke="#1400ff"/><circle cx="429.3" cy="97.4" r="1.0" stroke="#4b91ff"/><circle cx="437.5" cy="120.3" r="1.0" stroke="#1400ff"/><circle cx="467.2" cy="75.2" r="1.0" stroke="#55ff0f"/><circle cx="444.8" cy="104.7" r="1.0" stroke="#1400ff"/><circle cx="420.1" cy="142.6" r="1.0" stroke="#3732ff"/><circle cx="432.6" cy="110.3" r="1.0" stroke="#55afff"/><circle cx="455.9" cy="76.8" r="1.0" stroke="#6effaf"/><circle cx="464.7" cy="59.1" r="1.0" stroke="#f08228"/><circle cx="442.6" cy="95.4" r="1.0" stroke="#4b91ff"/><circle cx="447.8" cy="88.9" r="1.0" stroke="#73ffff"/><circle cx="417.2" cy="129.2" r="1.0" stroke="#3732ff"/><circle cx="453.6" cy="100.9" r="1.0" stroke="#416eff"/><circle cx="430.4" cy="124.6" r="1.0" stroke="#3732ff"/><circle cx="455.8" cy="76.7" r="1.0" stroke="#4bff32"/><circle cx="457.1" cy="78.1" r="1.0" stroke="#55ff5a"/><circle cx="441.1" cy="91.4" r="1.0" stroke="#64cdff"/><circle cx="452.0" cy="61.1" r="1.0" stroke="#f54b19"/><circle cx="431.5" cy="122.4" r="1.0" stroke="#4b91ff"/><circle cx="453.0" cy="101.9" r="1.0" stroke="#3732ff"/><circle cx="477.6" cy="64.1" r="1.0" stroke="#b9ff32"/><circle cx="432.4" cy="121.5" r="1.0" stroke="#1400ff"/><circle cx="444.0" cy="93.3" r="1.0" stroke="#55afff"/><circle cx="477.5" cy="74.2" r="1.0" stroke="#b9ff32"/><circle cx="458.5" cy="81.6" r="1.0" stroke="#41ff05"/><circle cx="456.9" cy="70.7" r="1.0" stroke="#64ff14"/><circle cx="467.5" cy="80.9" r="1.0" stroke="#8cff23"/><circle cx="464.3" cy="62.7" r="1.0" stroke="#f08228"/><circle cx="435.4" cy="90.1" r="1.0" stroke="#416eff"/><circle cx="478.1" cy="73.5" r="1.0" stroke="#c8ff37"/><circle cx="447.0" cy="87.2" r="1.0" stroke="#78ffe1"/><circle cx="437.4" cy="120.7" r="1.0" stroke="#3732ff"/><circle cx="473.3" cy="73.4" r="1.0" stroke="#c8ff37"/><circle cx="428.1" cy="123.7" r="1.0" stroke="#1400ff"/><circle cx="453.3" cy="95.6" r="1.0" stroke="#55afff"/><circle cx="460.3" cy="80.3" r="1.0" stroke="#8cff23"/><circle cx="437.8" cy="118.6" r="1.0" stroke="#4b91ff"/><circle cx="447.8" cy="63.9" r="1.0" stroke="#64ff14"/><circle cx="470.5" cy="60.7" r="1.0" stroke="#fa230f"/><circle cx="412.9" cy="143.2" r="1.0" stroke="#1400ff"/><circle cx="440.8" cy="96.2" r="1.0" stroke="#416eff"/><circle cx="438.7" cy="116.0" r="1.0" stroke="#1400ff"/><circle cx="423.7" cy="95.2" r="1.0" stroke="#4b91ff"/><circle cx="456.3" cy="68.3" r="1.0" stroke="#55ff0f"/><circle cx="440.1" cy="106.9" r="1.0" stroke="#1400ff"/><circle cx="462.6" cy="91.0" r="1.0" stroke="#55ff0f"/><circle cx="447.2" cy="85.1" r="1.0" stroke="#78fffa"/><circle cx="443.5" cy="104.5" r="1.0" stroke="#55afff"/><circle cx="421.0" cy="146.9" r="1.0" stroke="#3732ff"/><circle cx="462.0" cy="61.4" r="1.0" stroke="#f54b19"/><circle cx="433.8" cy="123.4" r="1.0" stroke="#3732ff"/><circle cx="433.5" cy="107.0" r="1.0" stroke="#416eff"/><circle cx="450.4" cy="68.8" r="1.0" stroke="#55ff0f"/><circle cx="467.5" cy="82.7" r="1.0" stroke="#55ff0f"/><circle cx="451.7" cy="90.7" r="1.0" stroke="#55afff"/><circle cx="442.1" cy="94.0" r="1.0" stroke="#55afff"/><circle cx="451.8" cy="113.6" r="1.0" stroke="#3732ff"/><circle cx="441.7" cy="113.2" r="1.0" stroke="#1400ff"/><circle cx="453.3" cy="100.7" r="1.0" stroke="#1400ff"/><circle cx="479.0" cy="66.3" r="1.0" stroke="#64ff14"/><circle cx="450.4" cy="94.2" r="1.0" stroke="#73ffc8"/><circle cx="455.6" cy="81.3" r="1.0" stroke="#6effaf"/><circle cx="440.6" cy="110.7" r="1.0" stroke="#416eff"/><circle cx="428.3" cy="127.4" r="1.0" stroke="#1400ff"/><circle cx="446.8" cy="92.8" r="1.0" stroke="#4b91ff"/><circle cx="449.5" cy="109.0" r="1.0" stroke="#1400ff"/><circle cx="443.9" cy="100.8" r="1.0" stroke="#416eff"/><circle cx="443.5" cy="98.3" r="1.0" stroke="#64cdff"/><circle cx="455.5" cy="80.2" r="1.0" stroke="#6effaf"/><circle cx="434.3" cy="129.0" r="1.0" stroke="#3732ff"/><circle cx="485.3" cy="63.4" r="1.0" stroke="#55ff0f"/><circle cx="455.6" cy="95.2" r="1.0" stroke="#73ffff"/><circle cx="458.9" cy="93.2" r="1.0" stroke="#73ffc8"/><circle cx="460.0" cy="63.9" r="1.0" stroke="#ebb937"/><circle cx="446.1" cy="100.7" r="1.0" stroke="#3732ff"/><circle cx="428.8" cy="113.5" r="1.0" stroke="#55afff"/><circle cx="459.5" cy="86.7" r="1.0" stroke="#41ff1e"/><circle cx="467.7" cy="80.1" r="1.0" stroke="#55ff0f"/><circle cx="432.0" cy="115.6" r="1.0" stroke="#1400ff"/><circle cx="456.5" cy="80.1" r="1.0" stroke="#6effaf"/><circle cx="430.9" cy="130.3" r="1.0" stroke="#1400ff"/><circle cx="455.0" cy="74.6" r="1.0" stroke="#41ff1e"/><circle cx="414.1" cy="143.8" r="1.0" stroke="#3732ff"/><circle cx="452.8" cy="103.0" r="1.0" stroke="#416eff"/><circle cx="441.0" cy="95.1" r="1.0" stroke="#64cdff"/><circle cx="422.2" cy="139.2" r="1.0" stroke="#3732ff"/><circle cx="437.3" cy="93.6" r="1.0" stroke="#78fffa"/><circle cx="459.1" cy="79.0" r="1.0" stroke="#41ff1e"/><circle cx="450.5" cy="107.4" r="1.0" stroke="#1400ff"/><circle cx="420.4" cy="125.4" r="1.0" stroke="#1400ff"/><circle cx="454.4" cy="91.4" r="1.0" stroke="#73ffc8"/><circle cx="487.2" cy="59.1" r="1.0" stroke="#64ff14"/><circle cx="437.4" cy="113.5" r="1.0" stroke="#55afff"/><circle cx="473.8" cy="76.1" r="1.0" stroke="#64ff14"/><circle cx="429.0" cy="122.8" r="1.0" stroke="#1400ff"/><circle cx="448.1" cy="98.7" r="1.0" stroke="#55afff"/><circle cx="442.7" cy="101.6" r="1.0" stroke="#416eff"/><circle cx="443.9" cy="104.4" r="1.0" stroke="#1400ff"/><circle cx="442.3" cy="108.9" r="1.0" stroke="#4b91ff"/><circle cx="442.9" cy="106.3" r="1.0" stroke="#3732ff"/><circle cx="467.5" cy="69.9" r="1.0" stroke="#55ff0f"/><circle cx="476.1" cy="63.7" r="1.0" stroke="#fa230f"/><circle cx="487.6" cy="58.3" r="1.0" stroke="#c8ff37"/><circle cx="473.6" cy="63.5" r="1.0" stroke="#c8ff37"/><circle cx="440.5" cy="110.5" r="1.0" stroke="#416eff"/><circle cx="405.8" cy="143.1" r="1.0" stroke="#1400ff"/><circle cx="431.5" cy="124.0" r="1.0" stroke="#4b91ff"/><circle cx="447.8" cy="106.5" r="1.0" stroke="#1400ff"/><circle cx="452.6" cy="75.2" r="1.0" stroke="#64ff8c"/><circle cx="446.5" cy="110.2" r="1.0" stroke="#1400ff"/><circle cx="458.4" cy="78.3" r="1.0" stroke="#55ff5a"/><circle cx="448.2" cy="90.8" r="1.0" stroke="#78ffe1"/><circle cx="427.9" cy="126.9" r="1.0" stroke="#1400ff"/><circle cx="445.4" cy="115.5" r="1.0" stroke="#c8c8c4"/><circle cx="455.2" cy="72.0" r="1.0" stroke="#46ff0a"/><circle cx="477.8" cy="71.1" r="1.0" stroke="#55ff0f"/><circle cx="452.1" cy="100.4" r="1.0" stroke="#4b91ff"/><circle cx="459.8" cy="76.1" r="1.0" stroke="#46ff0a"/><circle cx="469.2" cy="63.4" r="1.0" stroke="#ebb937"/><circle cx="455.0" cy="100.2" r="1.0" stroke="#4b91ff"/><circle cx="435.0" cy="127.1" r="1.0" stroke="#416eff"/><circle cx="438.6" cy="88.1" r="1.0" stroke="#73ffff"/><circle cx="453.2" cy="102.0" r="1.0" stroke="#1400ff"/><circle cx="442.0" cy="91.0" r="1.0" stroke="#73ffff"/><circle cx="454.8" cy="75.2" r="1.0" stroke="#55ff5a"/><circle cx="436.7" cy="91.6" r="1.0" stroke="#78ffe1"/><circle cx="449.0" cy="101.2" r="1.0" stroke="#55afff"/><circle cx="455.8" cy="80.4" r="1.0" stroke="#73ffc8"/><circle cx="446.7" cy="72.3" r="1.0" stroke="#6effaf"/><circle cx="449.7" cy="81.5" r="1.0" stroke="#41ff1e"/><circle cx="435.3" cy="101.4" r="1.0" stroke="#416eff"/><circle cx="445.8" cy="66.1" r="1.0" stroke="#55ff0f"/><circle cx="438.2" cy="121.5" r="1.0" stroke="#4b91ff"/><circle cx="447.1" cy="100.4" r="1.0" stroke="#1400ff"/><circle cx="459.6" cy="68.4" r="1.0" stroke="#8cff23"/><circle cx="437.8" cy="112.2" r="1.0" stroke="#416eff"/><circle cx="445.9" cy="76.2" r="1.0" stroke="#73ffc8"/><circle cx="421.0" cy="139.6" r="1.0" stroke="#3732ff"/><circle cx="418.8" cy="129.5" r="1.0" stroke="#416eff"/><circle cx="448.8" cy="82.2" r="1.0" stroke="#78fffa"/><circle cx="466.6" cy="71.8" r="1.0" stroke="#8cff23"/><circle cx="459.8" cy="74.5" r="1.0" stroke="#55ff0f"/><circle cx="430.0" cy="124.2" r="1.0" stroke="#416eff"/><circle cx="445.3" cy="95.2" r="1.0" stroke="#4b91ff"/><circle cx="448.9" cy="95.7" r="1.0" stroke="#73ffff"/><circle cx="436.7" cy="124.1" r="1.0" stroke="#1400ff"/><circle cx="467.0" cy="58.9" r="1.0" stroke="#ff190a"/><circle cx="461.9" cy="53.0" r="1.0" stroke="#f08228"/><circle cx="468.1" cy="60.5" r="1.0" stroke="#ebb937"/><circle cx="451.1" cy="120.0" r="1.0" stroke="#c8c8c4"/><circle cx="436.7" cy="109.9" r="1.0" stroke="#1400ff"/><circle cx="469.6" cy="52.9" r="1.0" stroke="#ebb937"/><circle cx="451.1" cy="72.0" r="1.0" stroke="#6effaf"/><circle cx="432.7" cy="103.4" r="1.0" stroke="#3732ff"/><circle cx="441.5" cy="116.1" r="1.0" stroke="#1400ff"/><circle cx="440.5" cy="111.6" r="1.0" stroke="#4b91ff"/><circle cx="446.3" cy="89.2" r="1.0" stroke="#78fffa"/><circle cx="460.1" cy="76.1" r="1.0" stroke="#41ff05"/><circle cx="433.2" cy="122.5" r="1.0" stroke="#4b91ff"/><circle cx="466.0" cy="77.5" r="1.0" stroke="#e6ff3c"/><circle cx="437.1" cy="108.6" r="1.0" stroke="#1400ff"/><circle cx="468.6" cy="53.1" r="1.0" stroke="#ee9b2d"/><circle cx="457.5" cy="76.5" r="1.0" stroke="#41ff1e"/><circle cx="459.2" cy="89.0" r="1.0" stroke="#6effaf"/><circle cx="464.1" cy="87.8" r="1.0" stroke="#41ff1e"/><circle cx="436.2" cy="119.1" r="1.0" stroke="#1400ff"/><circle cx="436.6" cy="114.8" r="1.0" stroke="#3732ff"/><circle cx="441.2" cy="82.2" r="1.0" stroke="#78fffa"/><circle cx="456.3" cy="82.4" r="1.0" stroke="#64ff8c"/><circle cx="467.6" cy="87.4" r="1.0" stroke="#41ff05"/><circle cx="452.4" cy="89.2" r="1.0" stroke="#73ffc8"/><circle cx="428.9" cy="122.8" r="1.0" stroke="#1400ff"/><circle cx="451.0" cy="81.7" r="1.0" stroke="#73ffc8"/><circle cx="416.8" cy="130.0" r="1.0" stroke="#1400ff"/><circle cx="447.3" cy="81.4" r="1.0" stroke="#6effaf"/><circle cx="473.0" cy="56.1" r="1.0" stroke="#f08228"/><circle cx="446.8" cy="85.7" r="1.0" stroke="#64cdff"/><circle cx="440.1" cy="97.5" r="1.0" stroke="#64cdff"/><circle cx="489.5" cy="60.1" r="1.0" stroke="#f0641e"/><circle cx="446.9" cy="103.3" r="1.0" stroke="#4b91ff"/><circle cx="472.8" cy="61.6" r="1.0" stroke="#ee9b2d"/><circle cx="456.3" cy="62.0" r="1.0" stroke="#c8ff37"/><circle cx="444.0" cy="83.2" r="1.0" stroke="#73ffff"/><circle cx="490.9" cy="58.0" r="1.0" stroke="#8cff23"/><circle cx="472.7" cy="72.5" r="1.0" stroke="#46ff0a"/><circle cx="443.4" cy="85.1" r="1.0" stroke="#64cdff"/><circle cx="461.8" cy="90.0" r="1.0" stroke="#6effaf"/><circle cx="448.1" cy="103.2" r="1.0" stroke="#1400ff"/><circle cx="437.3" cy="114.4" r="1.0" stroke="#416eff"/><circle cx="434.6" cy="121.5" r="1.0" stroke="#4b91ff"/><circle cx="446.8" cy="101.9" r="1.0" stroke="#416eff"/><circle cx="436.0" cy="124.2" r="1.0" stroke="#416eff"/><circle cx="415.2" cy="139.8" r="1.0" stroke="#3732ff"/><circle cx="444.7" cy="79.5" r="1.0" stroke="#73ffc8"/><circle cx="451.7" cy="106.2" r="1.0" stroke="#3732ff"/><circle cx="432.2" cy="118.4" r="1.0" stroke="#1400ff"/><circle cx="408.3" cy="144.1" r="1.0" stroke="#3732ff"/><circle cx="446.2" cy="92.3" r="1.0" stroke="#4b91ff"/><circle cx="437.5" cy="104.9" r="1.0" stroke="#55afff"/><circle cx="462.4" cy="96.0" r="1.0" stroke="#64ff8c"/><circle cx="419.1" cy="146.5" r="1.0" stroke="#3732ff"/><circle cx="458.3" cy="78.1" r="1.0" stroke="#41ff1e"/><circle cx="466.8" cy="75.8" r="1.0" stroke="#64ff14"/><circle cx="449.1" cy="109.7" r="1.0" stroke="#64cdff"/><circle cx="430.5" cy="103.4" r="1.0" stroke="#3732ff"/><circle cx="432.6" cy="120.1" r="1.0" stroke="#1400ff"/><circle cx="447.2" cy="101.0" r="1.0" stroke="#1400ff"/><circle cx="432.3" cy="121.1" r="1.0" stroke="#1400ff"/><circle cx="465.4" cy="65.8" r="1.0" stroke="#f54b19"/><circle cx="449.5" cy="92.9" r="1.0" stroke="#78fffa"/><circle cx="458.2" cy="64.5" r="1.0" stroke="#b9ff32"/><circle cx="417.2" cy="117.9" r="1.0" stroke="#3732ff"/><circle cx="462.3" cy="53.8" r="1.0" stroke="#f0e146"/><circle cx="429.7" cy="124.3" r="1.0" stroke="#3732ff"/><circle cx="443.5" cy="85.4" r="1.0" stroke="#6effaf"/><circle cx="462.2" cy="95.8" r="1.0" stroke="#6effaf"/><circle cx="402.7" cy="148.5" r="1.0" stroke="#1400ff"/><circle cx="456.0" cy="99.8" r="1.0" stroke="#73ffc8"/><circle cx="470.7" cy="62.0" r="1.0" stroke="#f08228"/><circle cx="444.9" cy="104.4" r="1.0" stroke="#3732ff"/><circle cx="485.8" cy="57.9" r="1.0" stroke="#f54b19"/><circle cx="436.1" cy="118.1" r="1.0" stroke="#4b91ff"/><circle cx="444.1" cy="98.7" r="1.0" stroke="#4b91ff"/><circle cx="454.3" cy="97.8" r="1.0" stroke="#4b91ff"/><circle cx="437.8" cy="126.8" r="1.0" stroke="#1400ff"/><circle cx="458.2" cy="93.1" r="1.0" stroke="#73ffff"/><circle cx="424.5" cy="122.7" r="1.0" stroke="#3732ff"/><circle cx="473.2" cy="73.4" r="1.0" stroke="#b9ff32"/><circle cx="461.3" cy="83.3" r="1.0" stroke="#55ff5a"/><circle cx="452.5" cy="84.0" r="1.0" stroke="#78fffa"/><circle cx="430.0" cy="102.0" r="1.0" stroke="#3732ff"/><circle cx="456.8" cy="87.9" r="1.0" stroke="#4bff32"/><circle cx="460.9" cy="93.7" r="1.0" stroke="#64ff8c"/><circle cx="436.1" cy="99.4" r="1.0" stroke="#416eff"/><circle cx="439.8" cy="89.4" r="1.0" stroke="#73ffff"/><circle cx="438.8" cy="100.0" r="1.0" stroke="#64cdff"/><circle cx="442.6" cy="103.6" r="1.0" stroke="#416eff"/><circle cx="431.6" cy="94.0" r="1.0" stroke="#55afff"/><circle cx="450.2" cy="78.9" r="1.0" stroke="#73ffc8"/><circle cx="452.0" cy="98.8" r="1.0" stroke="#4b91ff"/><circle cx="441.7" cy="98.1" r="1.0" stroke="#416eff"/><circle cx="473.9" cy="61.5" r="1.0" stroke="#f54b19"/><circle cx="430.0" cy="104.5" r="1.0" stroke="#55afff"/><circle cx="424.7" cy="115.4" r="1.0" stroke="#416eff"/><circle cx="459.5" cy="75.5" r="1.0" stroke="#46ff0a"/><circle cx="437.1" cy="82.2" r="1.0" stroke="#73ffff"/><circle cx="453.9" cy="87.0" r="1.0" stroke="#6effaf"/><circle cx="462.4" cy="91.8" r="1.0" stroke="#41ff1e"/><circle cx="437.7" cy="121.7" r="1.0" stroke="#4b91ff"/><circle cx="447.6" cy="102.4" r="1.0" stroke="#55afff"/><circle cx="436.3" cy="103.2" r="1.0" stroke="#4b91ff"/><circle cx="457.4" cy="72.1" r="1.0" stroke="#41ff05"/><circle cx="455.3" cy="82.4" r="1.0" stroke="#64ff8c"/><circle cx="472.5" cy="71.7" r="1.0" stroke="#64ff14"/><circle cx="421.9" cy="111.6" r="1.0" stroke="#4b91ff"/><circle cx="453.2" cy="80.4" r="1.0" stroke="#73ffc8"/><circle cx="456.1" cy="77.7" r="1.0" stroke="#55ff5a"/><circle cx="448.6" cy="114.2" r="1.0" stroke="#3732ff"/><circle cx="440.6" cy="117.0" r="1.0" stroke="#1400ff"/><circle cx="459.9" cy="83.2" r="1.0" stroke="#73ffc8"/><circle cx="458.2" cy="91.0" r="1.0" stroke="#4bff32"/><circle cx="434.7" cy="117.5" r="1.0" stroke="#3732ff"/><circle cx="444.7" cy="82.7" r="1.0" stroke="#73ffff"/><circle cx="441.1" cy="117.8" r="1.0" stroke="#1400ff"/><circle cx="447.1" cy="85.5" r="1.0" stroke="#6effaf"/><circle cx="449.4" cy="82.6" r="1.0" stroke="#73ffc8"/><circle cx="451.3" cy="90.7" r="1.0" stroke="#55afff"/><circle cx="439.5" cy="94.5" r="1.0" stroke="#64cdff"/><circle cx="444.6" cy="111.0" r="1.0" stroke="#4b91ff"/><circle cx="447.0" cy="73.0" r="1.0" stroke="#73ffc8"/><circle cx="458.0" cy="104.6" r="1.0" stroke="#3732ff"/><circle cx="441.8" cy="76.9" r="1.0" stroke="#78fffa"/><circle cx="439.3" cy="117.7" r="1.0" stroke="#1400ff"/><circle cx="445.0" cy="79.9" r="1.0" stroke="#73ffc8"/><circle cx="448.1" cy="91.6" r="1.0" stroke="#78fffa"/><circle cx="444.2" cy="78.2" r="1.0" stroke="#78ffe1"/><circle cx="454.0" cy="93.1" r="1.0" stroke="#73ffc8"/><circle cx="476.6" cy="68.8" r="1.0" stroke="#b9ff32"/><circle cx="439.1" cy="118.3" r="1.0" stroke="#3732ff"/><circle cx="453.9" cy="59.6" r="1.0" stroke="#f54b19"/><circle cx="480.1" cy="71.6" r="1.0" stroke="#64ff14"/><circle cx="430.7" cy="88.8" r="1.0" stroke="#73ffff"/><circle cx="427.7" cy="122.9" r="1.0" stroke="#4b91ff"/><circle cx="444.0" cy="61.3" r="1.0" stroke="#f0641e"/><circle cx="471.2" cy="59.1" r="1.0" stroke="#ebb937"/><circle cx="455.5" cy="90.9" r="1.0" stroke="#73ffff"/><circle cx="424.3" cy="121.2" r="1.0" stroke="#3732ff"/><circle cx="479.4" cy="61.4" r="1.0" stroke="#f54b19"/><circle cx="458.9" cy="70.3" r="1.0" stroke="#41ff05"/><circle cx="441.8" cy="80.4" r="1.0" stroke="#78fffa"/><circle cx="426.6" cy="115.9" r="1.0" stroke="#3732ff"/><circle cx="427.6" cy="120.6" r="1.0" stroke="#416eff"/><circle cx="459.7" cy="86.1" r="1.0" stroke="#73ffc8"/><circle cx="430.0" cy="104.8" r="1.0" stroke="#4b91ff"/><circle cx="462.5" cy="74.7" r="1.0" stroke="#55ff0f"/><circle cx="438.7" cy="113.1" r="1.0" stroke="#4b91ff"/><circle cx="432.4" cy="124.4" r="1.0" stroke="#3732ff"/><circle cx="445.0" cy="68.8" r="1.0" stroke="#41ff05"/><circle cx="431.3" cy="110.1" r="1.0" stroke="#416eff"/><circle cx="438.4" cy="104.9" r="1.0" stroke="#64cdff"/><circle cx="441.1" cy="105.7" r="1.0" stroke="#1400ff"/><circle cx="433.8" cy="89.6" r="1.0" stroke="#78ffe1"/><circle cx="466.1" cy="56.7" r="1.0" stroke="#f54b19"/><circle cx="437.2" cy="119.6" r="1.0" stroke="#4b91ff"/><circle cx="453.7" cy="83.2" r="1.0" stroke="#6effaf"/><circle cx="435.7" cy="95.3" r="1.0" stroke="#78fffa"/><circle cx="490.4" cy="60.8" r="1.0" stroke="#f54b19"/><circle cx="436.5" cy="115.1" r="1.0" stroke="#416eff"/><circle cx="486.0" cy="65.1" r="1.0" stroke="#8cff23"/><circle cx="441.4" cy="120.5" r="1.0" stroke="#3732ff"/><circle cx="463.1" cy="71.2" r="1.0" stroke="#c8ff37"/><circle cx="456.5" cy="82.6" r="1.0" stroke="#6effaf"/><circle cx="446.9" cy="105.3" r="1.0" stroke="#416eff"/><circle cx="436.0" cy="89.4" r="1.0" stroke="#78fffa"/><circle cx="483.0" cy="62.0" r="1.0" stroke="#fa230f"/><circle cx="456.3" cy="86.3" r="1.0" stroke="#78ffe1"/><circle cx="446.9" cy="88.7" r="1.0" stroke="#416eff"/><circle cx="414.6" cy="140.5" r="1.0" stroke="#3732ff"/><circle cx="454.0" cy="100.2" r="1.0" stroke="#4b91ff"/><circle cx="437.3" cy="101.7" r="1.0" stroke="#4b91ff"/><circle cx="438.2" cy="80.0" r="1.0" stroke="#73ffff"/><circle cx="448.5" cy="107.3" r="1.0" stroke="#4b91ff"/><circle cx="466.6" cy="60.4" r="1.0" stroke="#f54b19"/><circle cx="468.6" cy="61.0" r="1.0" stroke="#ee9b2d"/><circle cx="419.2" cy="123.4" r="1.0" stroke="#416eff"/><circle cx="430.4" cy="111.3" r="1.0" stroke="#55afff"/><circle cx="447.7" cy="107.3" r="1.0" stroke="#1400ff"/><circle cx="444.7" cy="58.0" r="1.0" stroke="#fa230f"/><circle cx="457.1" cy="90.7" r="1.0" stroke="#78ffe1"/><circle cx="442.4" cy="110.1" r="1.0" stroke="#4b91ff"/><circle cx="411.2" cy="141.9" r="1.0" stroke="#3732ff"/><circle cx="440.4" cy="116.6" r="1.0" stroke="#3732ff"/><circle cx="424.8" cy="125.6" r="1.0" stroke="#1400ff"/><circle cx="435.4" cy="110.9" r="1.0" stroke="#64cdff"/><circle cx="433.7" cy="106.3" r="1.0" stroke="#416eff"/><circle cx="451.2" cy="104.2" r="1.0" stroke="#1400ff"/><circle cx="423.6" cy="99.1" r="1.0" stroke="#64cdff"/><circle cx="409.9" cy="144.7" r="1.0" stroke="#416eff"/><circle cx="451.7" cy="96.2" r="1.0" stroke="#73ffff"/><circle cx="430.4" cy="96.9" r="1.0" stroke="#4b91ff"/><circle cx="433.8" cy="128.0" r="1.0" stroke="#1400ff"/><circle cx="456.1" cy="88.7" r="1.0" stroke="#4bff32"/><circle cx="469.9" cy="84.4" r="1.0" stroke="#b9ff32"/><circle cx="439.4" cy="113.2" r="1.0" stroke="#1400ff"/><circle cx="440.7" cy="88.9" r="1.0" stroke="#55afff"/><circle cx="430.0" cy="126.0" r="1.0" stroke="#1400ff"/><circle cx="434.0" cy="120.0" r="1.0" stroke="#416eff"/><circle cx="470.3" cy="68.0" r="1.0" stroke="#8cff23"/><circle cx="452.1" cy="105.2" r="1.0" stroke="#416eff"/><circle cx="470.4" cy="57.9" r="1.0" stroke="#f5fa46"/><circle cx="451.5" cy="67.3" r="1.0" stroke="#55ff0f"/><circle cx="432.1" cy="102.5" r="1.0" stroke="#4b91ff"/><circle cx="443.2" cy="102.8" r="1.0" stroke="#416eff"/><circle cx="457.6" cy="75.8" r="1.0" stroke="#41ff05"/><circle cx="467.9" cy="76.7" r="1.0" stroke="#41ff05"/><circle cx="445.9" cy="68.4" r="1.0" stroke="#41ff1e"/><circle cx="453.2" cy="71.9" r="1.0" stroke="#41ff1e"/><circle cx="462.5" cy="77.1" r="1.0" stroke="#55ff0f"/><circle cx="428.1" cy="124.3" r="1.0" stroke="#416eff"/><circle cx="437.1" cy="83.2" r="1.0" stroke="#78ffe1"/><circle cx="447.6" cy="107.2" r="1.0" stroke="#4b91ff"/><circle cx="482.0" cy="64.4" r="1.0" stroke="#e6ff3c"/><circle cx="449.3" cy="105.0" r="1.0" stroke="#416eff"/><circle cx="471.9" cy="52.6" r="1.0" stroke="#f08228"/><circle cx="438.6" cy="102.9" r="1.0" stroke="#55afff"/><circle cx="464.3" cy="62.9" r="1.0" stroke="#f5fa46"/><circle cx="465.2" cy="57.1" r="1.0" stroke="#f0641e"/><circle cx="467.7" cy="86.0" r="1.0" stroke="#55ff0f"/><circle cx="458.0" cy="62.0" r="1.0" stroke="#f54b19"/><circle cx="446.7" cy="103.6" r="1.0" stroke="#4b91ff"/><circle cx="448.4" cy="70.1" r="1.0" stroke="#55ff5a"/><circle cx="457.0" cy="94.0" r="1.0" stroke="#64cdff"/><circle cx="444.0" cy="98.2" r="1.0" stroke="#1400ff"/><circle cx="439.5" cy="110.8" r="1.0" stroke="#416eff"/><circle cx="442.2" cy="98.1" r="1.0" stroke="#416eff"/><circle cx="456.4" cy="79.8" r="1.0" stroke="#4bff32"/><circle cx="467.6" cy="82.8" r="1.0" stroke="#46ff0a"/><circle cx="410.1" cy="148.7" r="1.0" stroke="#3732ff"/><circle cx="420.7" cy="147.2" r="1.0" stroke="#3732ff"/><circle cx="446.5" cy="125.7" r="1.0" stroke="#c8c8c4"/><circle cx="441.1" cy="100.5" r="1.0" stroke="#73ffff"/><circle cx="449.5" cy="85.4" r="1.0" stroke="#73ffc8"/><circle cx="446.6" cy="105.4" r="1.0" stroke="#416eff"/><circle cx="448.0" cy="109.5" r="1.0" stroke="#416eff"/><circle cx="463.7" cy="64.6" r="1.0" stroke="#ee9b2d"/><circle cx="439.6" cy="113.9" r="1.0" stroke="#1400ff"/><circle cx="428.8" cy="91.0" r="1.0" stroke="#3732ff"/><circle cx="430.1" cy="96.0" r="1.0" stroke="#55afff"/><circle cx="445.7" cy="103.2" r="1.0" stroke="#64cdff"/><circle cx="451.8" cy="94.7" r="1.0" stroke="#78ffe1"/><circle cx="469.7" cy="87.3" r="1.0" stroke="#64ff14"/><circle cx="449.3" cy="84.7" r="1.0" stroke="#73ffc8"/><circle cx="438.0" cy="123.0" r="1.0" stroke="#1400ff"/><circle cx="440.7" cy="120.1" r="1.0" stroke="#1400ff"/><circle cx="454.4" cy="55.9" r="1.0" stroke="#ff190a"/><circle cx="440.3" cy="83.7" r="1.0" stroke="#78fffa"/><circle cx="450.5" cy="92.2" r="1.0" stroke="#73ffc8"/><circle cx="428.4" cy="102.1" r="1.0" stroke="#55afff"/><circle cx="437.6" cy="103.2" r="1.0" stroke="#64cdff"/><circle cx="443.4" cy="87.9" r="1.0" stroke="#73ffc8"/><circle cx="475.7" cy="59.2" r="1.0" stroke="#fa230f"/><circle cx="464.6" cy="82.5" r="1.0" stroke="#64ff14"/><circle cx="436.0" cy="103.4" r="1.0" stroke="#64cdff"/><circle cx="455.0" cy="93.0" r="1.0" stroke="#6effaf"/><circle cx="430.7" cy="122.6" r="1.0" stroke="#1400ff"/><circle cx="436.0" cy="94.9" r="1.0" stroke="#55afff"/><circle cx="470.5" cy="74.8" r="1.0" stroke="#c8ff37"/><circle cx="462.0" cy="71.2" r="1.0" stroke="#41ff05"/><circle cx="454.8" cy="65.9" r="1.0" stroke="#64ff14"/><circle cx="457.3" cy="105.1" r="1.0" stroke="#3732ff"/><circle cx="463.7" cy="60.6" r="1.0" stroke="#f0641e"/><circle cx="449.4" cy="99.6" r="1.0" stroke="#64cdff"/><circle cx="462.2" cy="57.6" r="1.0" stroke="#f0e146"/><circle cx="441.9" cy="97.3" r="1.0" stroke="#416eff"/><circle cx="473.6" cy="71.5" r="1.0" stroke="#b9ff32"/><circle cx="451.3" cy="95.0" r="1.0" stroke="#73ffff"/><circle cx="440.6" cy="98.7" r="1.0" stroke="#64cdff"/><circle cx="414.4" cy="139.8" r="1.0" stroke="#3732ff"/><circle cx="441.2" cy="108.0" r="1.0" stroke="#4b91ff"/><circle cx="461.8" cy="80.2" r="1.0" stroke="#64ff8c"/><circle cx="464.6" cy="83.7" r="1.0" stroke="#4bff32"/><circle cx="463.3" cy="66.0" r="1.0" stroke="#64ff14"/><circle cx="437.9" cy="120.1" r="1.0" stroke="#1400ff"/><circle cx="468.2" cy="78.3" r="1.0" stroke="#64ff8c"/><circle cx="429.6" cy="95.2" r="1.0" stroke="#55afff"/><circle cx="456.1" cy="78.6" r="1.0" stroke="#55ff5a"/><circle cx="454.9" cy="75.3" r="1.0" stroke="#55ff5a"/><circle cx="422.6" cy="132.4" r="1.0" stroke="#3732ff"/><circle cx="431.8" cy="121.4" r="1.0" stroke="#1400ff"/><circle cx="436.6" cy="115.6" r="1.0" stroke="#416eff"/><circle cx="445.7" cy="88.9" r="1.0" stroke="#78fffa"/><circle cx="458.1" cy="92.4" r="1.0" stroke="#41ff1e"/><circle cx="448.7" cy="83.1" r="1.0" stroke="#55ff5a"/><circle cx="428.3" cy="118.0" r="1.0" stroke="#416eff"/><circle cx="445.4" cy="104.5" r="1.0" stroke="#4b91ff"/><circle cx="444.5" cy="106.6" r="1.0" stroke="#1400ff"/><circle cx="465.8" cy="57.6" r="1.0" stroke="#fa230f"/><circle cx="470.3" cy="81.6" r="1.0" stroke="#41ff05"/><circle cx="463.0" cy="68.1" r="1.0" stroke="#41ff05"/><circle cx="447.3" cy="101.7" r="1.0" stroke="#4b91ff"/><circle cx="454.4" cy="67.1" r="1.0" stroke="#c8ff37"/><circle cx="436.3" cy="92.6" r="1.0" stroke="#73ffc8"/><circle cx="441.0" cy="96.2" r="1.0" stroke="#4b91ff"/><circle cx="445.6" cy="66.6" r="1.0" stroke="#64ff14"/><circle cx="425.2" cy="129.1" r="1.0" stroke="#1400ff"/><circle cx="449.1" cy="120.2" r="1.0" stroke="#c8c8c4"/><circle cx="434.3" cy="97.6" r="1.0" stroke="#1400ff"/><circle cx="449.4" cy="105.4" r="1.0" stroke="#416eff"/><circle cx="454.6" cy="95.6" r="1.0" stroke="#78fffa"/><circle cx="450.0" cy="69.9" r="1.0" stroke="#41ff1e"/><circle cx="458.3" cy="87.9" r="1.0" stroke="#78ffe1"/><circle cx="456.0" cy="79.8" r="1.0" stroke="#55ff5a"/><circle cx="428.7" cy="106.5" r="1.0" stroke="#416eff"/><circle cx="469.0" cy="52.2" r="1.0" stroke="#f08228"/><circle cx="439.0" cy="100.2" r="1.0" stroke="#4b91ff"/><circle cx="449.9" cy="86.6" r="1.0" stroke="#78fffa"/><circle cx="462.7" cy="71.3" r="1.0" stroke="#64ff14"/><circle cx="435.4" cy="86.7" r="1.0" stroke="#78ffe1"/><circle cx="447.3" cy="106.4" r="1.0" stroke="#4b91ff"/><circle cx="469.7" cy="57.6" r="1.0" stroke="#ebb937"/><circle cx="423.4" cy="127.9" r="1.0" stroke="#3732ff"/><circle cx="456.8" cy="88.1" r="1.0" stroke="#41ff1e"/><circle cx="435.2" cy="126.3" r="1.0" stroke="#3732ff"/><circle cx="447.7" cy="111.7" r="1.0" stroke="#1400ff"/><circle cx="464.6" cy="69.4" r="1.0" stroke="#b9ff32"/><circle cx="436.3" cy="97.5" r="1.0" stroke="#416eff"/><circle cx="449.2" cy="79.6" r="1.0" stroke="#73ffc8"/><circle cx="460.7" cy="67.5" r="1.0" stroke="#c8ff37"/><circle cx="470.7" cy="85.9" r="1.0" stroke="#f5fa46"/><circle cx="464.6" cy="62.0" r="1.0" stroke="#ebb937"/><circle cx="431.1" cy="109.1" r="1.0" stroke="#64cdff"/><circle cx="491.3" cy="61.7" r="1.0" stroke="#f0641e"/><circle cx="456.0" cy="65.9" r="1.0" stroke="#8cff23"/><circle cx="413.8" cy="132.4" r="1.0" stroke="#3732ff"/><circle cx="430.3" cy="131.6" r="1.0" stroke="#416eff"/><circle cx="430.0" cy="133.8" r="1.0" stroke="#416eff"/><circle cx="462.0" cy="63.5" r="1.0" stroke="#ee9b2d"/><circle cx="449.5" cy="77.2" r="1.0" stroke="#64ff8c"/><circle cx="447.9" cy="104.4" r="1.0" stroke="#4b91ff"/><circle cx="443.2" cy="100.3" r="1.0" stroke="#64cdff"/><circle cx="471.2" cy="66.9" r="1.0" stroke="#8cff23"/><circle cx="427.3" cy="137.5" r="1.0" stroke="#1400ff"/><circle cx="429.5" cy="126.2" r="1.0" stroke="#4b91ff"/><circle cx="443.4" cy="103.0" r="1.0" stroke="#416eff"/><circle cx="465.0" cy="53.2" r="1.0" stroke="#f54b19"/><circle cx="428.8" cy="96.6" r="1.0" stroke="#3732ff"/><circle cx="464.9" cy="60.9" r="1.0" stroke="#ff190a"/><circle cx="448.4" cy="62.6" r="1.0" stroke="#c8ff37"/><circle cx="455.2" cy="100.0" r="1.0" stroke="#78fffa"/><circle cx="438.3" cy="123.9" r="1.0" stroke="#3732ff"/><circle cx="446.7" cy="87.0" r="1.0" stroke="#78fffa"/><circle cx="469.1" cy="54.9" r="1.0" stroke="#f0e146"/><circle cx="464.4" cy="59.5" r="1.0" stroke="#f54b19"/><circle cx="438.9" cy="116.0" r="1.0" stroke="#1400ff"/><circle cx="431.0" cy="110.0" r="1.0" stroke="#416eff"/><circle cx="456.0" cy="80.2" r="1.0" stroke="#64ff8c"/><circle cx="453.0" cy="110.5" r="1.0" stroke="#1400ff"/><circle cx="457.0" cy="69.5" r="1.0" stroke="#55ff0f"/><circle cx="428.1" cy="96.0" r="1.0" stroke="#4b91ff"/><circle cx="448.6" cy="103.2" r="1.0" stroke="#3732ff"/><circle cx="445.4" cy="106.7" r="1.0" stroke="#1400ff"/><circle cx="449.9" cy="84.9" r="1.0" stroke="#73ffff"/><circle cx="481.6" cy="60.7" r="1.0" stroke="#f0641e"/><circle cx="442.9" cy="101.7" r="1.0" stroke="#55afff"/><circle cx="448.8" cy="92.5" r="1.0" stroke="#4b91ff"/><circle cx="425.8" cy="125.4" r="1.0" stroke="#1400ff"/><circle cx="436.8" cy="114.4" r="1.0" stroke="#416eff"/><circle cx="456.3" cy="71.8" r="1.0" stroke="#8cff23"/><circle cx="459.1" cy="92.1" r="1.0" stroke="#64ff8c"/><circle cx="463.2" cy="61.7" r="1.0" stroke="#f0641e"/><circle cx="414.5" cy="147.5" r="1.0" stroke="#3732ff"/><circle cx="426.9" cy="127.1" r="1.0" stroke="#1400ff"/><circle cx="453.1" cy="104.7" r="1.0" stroke="#1400ff"/><circle cx="476.0" cy="59.3" r="1.0" stroke="#f54b19"/><circle cx="447.1" cy="102.5" r="1.0" stroke="#1400ff"/><circle cx="453.9" cy="69.2" r="1.0" stroke="#8cff23"/><circle cx="446.5" cy="74.2" r="1.0" stroke="#78ffe1"/><circle cx="432.0" cy="87.7" r="1.0" stroke="#73ffff"/><circle cx="443.3" cy="110.9" r="1.0" stroke="#3732ff"/><circle cx="444.6" cy="109.8" r="1.0" stroke="#1400ff"/><circle cx="445.6" cy="108.1" r="1.0" stroke="#4b91ff"/><circle cx="437.4" cy="89.6" r="1.0" stroke="#64cdff"/></g>
<path d="M390.25,175.50v1.3 M387.60,171.85h-1.3 M392.52,175.50v1.3 M387.60,168.72h-1.3 M394.48,175.50v1.3 M387.60,166.01h-1.3 M396.21,175.50v1.3 M387.60,163.62h-1.3 M397.76,175.50v2.4 M387.60,161.48h-2.4 M407.96,175.50v1.3 M387.60,147.42h-1.3 M413.93,175.50v1.3 M387.60,139.19h-1.3 M418.16,175.50v1.3 M387.60,133.35h-1.3 M421.44,175.50v1.3 M387.60,128.82h-1.3 M424.13,175.50v1.3 M387.60,125.12h-1.3 M426.39,175.50v1.3 M387.60,121.99h-1.3 M428.36,175.50v1.3 M387.60,119.28h-1.3 M430.09,175.50v1.3 M387.60,116.89h-1.3 M431.64,175.50v2.4 M387.60,114.75h-2.4 M441.84,175.50v1.3 M387.60,100.69h-1.3 M447.81,175.50v1.3 M387.60,92.46h-1.3 M452.04,175.50v1.3 M387.60,86.62h-1.3 M455.32,175.50v1.3 M387.60,82.09h-1.3 M458.01,175.50v1.3 M387.60,78.39h-1.3 M460.27,175.50v1.3 M387.60,75.27h-1.3 M462.24,175.50v1.3 M387.60,72.56h-1.3 M463.97,175.50v1.3 M387.60,70.17h-1.3 M465.52,175.50v2.4 M387.60,68.03h-2.4 M475.72,175.50v1.3 M387.60,53.96h-1.3 M481.69,175.50v1.3 M387.60,45.73h-1.3 M485.92,175.50v1.3 M387.60,39.89h-1.3 M489.20,175.50v1.3 M387.60,35.37h-1.3 M491.88,175.50v1.3 M387.60,31.67h-1.3 M494.15,175.50v1.3 M387.60,28.54h-1.3 M496.12,175.50v1.3 M387.60,25.83h-1.3 M497.85,175.50v1.3 M387.60,23.44h-1.3 M499.40,175.50v2.4 M387.60,21.30h-2.4" stroke="#222" stroke-width="0.9" fill="none"/>
<rect x="387.60" y="21.30" width="111.80" height="154.20" fill="none" stroke="#222" stroke-width="1.1"/>
<line x1="387.60" y1="175.50" x2="499.40" y2="21.30" stroke="#111" stroke-width="1.3" stroke-dasharray="4.2 2.6"/>
<line x1="408.1" y1="147.5" x2="489.8" y2="39.6" stroke="#f01010" stroke-width="1.45"/>
<text transform="translate(389.56,190.6) scale(1,1.1)" font-size="12.2">10</text><text x="402.16" y="186.0" font-size="7.2">5</text>
<text transform="translate(368.20,166.78) scale(1,1.1)" font-size="12.2">10</text><text x="380.80" y="161.18" font-size="7.2">5</text>
<text transform="translate(423.44,190.6) scale(1,1.1)" font-size="12.2">10</text><text x="436.04" y="186.0" font-size="7.2">6</text>
<text transform="translate(368.20,120.05) scale(1,1.1)" font-size="12.2">10</text><text x="380.80" y="114.45" font-size="7.2">6</text>
<text transform="translate(457.32,190.6) scale(1,1.1)" font-size="12.2">10</text><text x="469.92" y="186.0" font-size="7.2">7</text>
<text transform="translate(368.20,73.33) scale(1,1.1)" font-size="12.2">10</text><text x="380.80" y="67.73" font-size="7.2">7</text>
<text transform="translate(491.20,190.6) scale(1,1.1)" font-size="12.2">10</text><text x="503.80" y="186.0" font-size="7.2">8</text>
<text transform="translate(368.20,26.60) scale(1,1.1)" font-size="12.2">10</text><text x="380.80" y="21.00" font-size="7.2">8</text>
<text x="443.50" y="208.9" font-size="13" text-anchor="middle">SA measurement</text>
<text transform="translate(364.00,98.40) rotate(-90)" font-size="13" text-anchor="middle">Estimation</text>
<text transform="translate(402.90,169.2) scale(0.88,1)" font-size="11.8" fill="#222">1:1</text>
<polygon points="597.3,103.7 599.1,102.5 603.8,101.9 606.8,102.5 609.7,103.1 610.9,105.4 612.7,106.6 614.0,109.0 613.8,113.7 615.5,116.0 617.4,117.8 617.5,120.0 619.1,123.0 620.3,123.2 617.4,124.4 612.7,125.5 610.3,128.5 611.5,131.4 610.9,135.0 609.1,137.3 606.8,139.7 604.4,143.8 599.7,145.6 595.0,146.7 591.5,145.6 590.9,142.6 590.3,138.5 587.9,136.1 584.4,135.5 583.8,130.8 586.2,126.7 585.6,122.0 587.0,118.0 589.1,116.6 591.5,113.0 595.0,111.3 596.2,106.6" fill="#c8c8c8"/><g fill="#c8c8c8"><circle cx="596.9" cy="103.7" r="1.08"/><circle cx="596.7" cy="100.8" r="1.0"/><circle cx="599.8" cy="102.2" r="0.92"/><circle cx="600.8" cy="102.6" r="0.90"/><circle cx="602.7" cy="101.8" r="1.08"/><circle cx="602.7" cy="103.1" r="1.02"/><circle cx="605.1" cy="102.1" r="1.08"/><circle cx="607.2" cy="102.9" r="1.05"/><circle cx="607.6" cy="103.2" r="0.84"/><circle cx="609.2" cy="102.5" r="0.92"/><circle cx="611.0" cy="104.1" r="0.89"/><circle cx="610.3" cy="104.7" r="0.96"/><circle cx="612.7" cy="102.0" r="1.0"/><circle cx="610.3" cy="105.9" r="0.80"/><circle cx="613.0" cy="106.4" r="0.99"/><circle cx="612.3" cy="108.7" r="0.97"/><circle cx="616.1" cy="107.8" r="1.0"/><circle cx="613.2" cy="109.1" r="0.78"/><circle cx="612.9" cy="110.5" r="0.89"/><circle cx="613.1" cy="111.9" r="0.86"/><circle cx="613.1" cy="112.3" r="0.83"/><circle cx="613.7" cy="114.7" r="0.76"/><circle cx="614.4" cy="116.4" r="1.08"/><circle cx="616.7" cy="116.7" r="0.72"/><circle cx="616.3" cy="118.6" r="0.90"/><circle cx="616.9" cy="117.8" r="0.71"/><circle cx="615.7" cy="119.5" r="0.71"/><circle cx="617.8" cy="121.3" r="1.06"/><circle cx="617.1" cy="122.2" r="1.00"/><circle cx="618.3" cy="123.4" r="0.99"/><circle cx="620.3" cy="124.0" r="0.73"/><circle cx="620.0" cy="119.6" r="1.0"/><circle cx="619.5" cy="122.6" r="0.88"/><circle cx="617.6" cy="123.3" r="1.00"/><circle cx="616.8" cy="122.8" r="1.01"/><circle cx="615.6" cy="123.3" r="0.74"/><circle cx="614.9" cy="125.4" r="0.87"/><circle cx="613.3" cy="123.3" r="0.86"/><circle cx="610.9" cy="125.0" r="0.95"/><circle cx="610.5" cy="125.5" r="1.03"/><circle cx="609.7" cy="127.0" r="1.10"/><circle cx="615.2" cy="128.0" r="1.0"/><circle cx="610.2" cy="129.4" r="0.94"/><circle cx="610.4" cy="131.6" r="1.01"/><circle cx="610.7" cy="131.2" r="0.83"/><circle cx="610.8" cy="133.2" r="0.96"/><circle cx="611.6" cy="134.7" r="0.71"/><circle cx="614.4" cy="132.9" r="1.0"/><circle cx="609.5" cy="134.5" r="0.89"/><circle cx="609.0" cy="137.2" r="0.97"/><circle cx="612.9" cy="137.8" r="1.0"/><circle cx="608.2" cy="138.1" r="1.06"/><circle cx="607.2" cy="137.4" r="1.07"/><circle cx="606.9" cy="138.3" r="0.77"/><circle cx="605.6" cy="139.8" r="0.88"/><circle cx="606.1" cy="141.1" r="0.85"/><circle cx="604.6" cy="141.4" r="1.02"/><circle cx="604.8" cy="143.2" r="0.71"/><circle cx="603.4" cy="141.8" r="1.05"/><circle cx="601.6" cy="143.1" r="0.87"/><circle cx="601.5" cy="145.2" r="0.94"/><circle cx="600.0" cy="144.0" r="0.95"/><circle cx="598.4" cy="145.3" r="1.06"/><circle cx="598.3" cy="144.7" r="1.01"/><circle cx="595.9" cy="145.1" r="0.98"/><circle cx="595.7" cy="145.9" r="0.94"/><circle cx="595.0" cy="145.4" r="0.81"/><circle cx="593.7" cy="145.7" r="0.90"/><circle cx="592.8" cy="144.4" r="0.84"/><circle cx="591.8" cy="149.0" r="1.0"/><circle cx="592.8" cy="144.9" r="0.85"/><circle cx="592.7" cy="143.7" r="1.06"/><circle cx="588.2" cy="144.3" r="1.0"/><circle cx="590.6" cy="142.4" r="0.96"/><circle cx="591.0" cy="141.4" r="1.07"/><circle cx="590.0" cy="139.5" r="0.93"/><circle cx="589.4" cy="138.6" r="0.74"/><circle cx="590.0" cy="136.6" r="0.78"/><circle cx="588.1" cy="136.0" r="0.92"/><circle cx="587.2" cy="139.9" r="1.0"/><circle cx="587.3" cy="134.5" r="1.04"/><circle cx="586.8" cy="136.0" r="0.73"/><circle cx="585.4" cy="135.4" r="0.93"/><circle cx="585.7" cy="134.1" r="0.97"/><circle cx="583.7" cy="133.4" r="1.07"/><circle cx="584.1" cy="132.0" r="0.95"/><circle cx="585.4" cy="131.0" r="0.81"/><circle cx="581.1" cy="131.2" r="1.0"/><circle cx="584.8" cy="131.0" r="0.97"/><circle cx="585.6" cy="129.9" r="0.85"/><circle cx="586.0" cy="128.5" r="0.89"/><circle cx="586.9" cy="128.2" r="0.93"/><circle cx="587.2" cy="125.5" r="0.75"/><circle cx="587.7" cy="125.1" r="1.02"/><circle cx="586.8" cy="123.4" r="0.83"/><circle cx="586.7" cy="122.2" r="0.93"/><circle cx="582.6" cy="126.1" r="1.0"/><circle cx="585.2" cy="120.7" r="0.98"/><circle cx="586.1" cy="119.9" r="0.76"/><circle cx="587.2" cy="119.2" r="0.78"/><circle cx="587.2" cy="117.2" r="0.73"/><circle cx="588.7" cy="117.1" r="0.82"/><circle cx="589.4" cy="115.3" r="1.09"/><circle cx="591.0" cy="115.5" r="0.98"/><circle cx="591.9" cy="114.2" r="0.72"/><circle cx="591.8" cy="112.8" r="0.79"/><circle cx="593.1" cy="111.6" r="0.94"/><circle cx="595.4" cy="112.7" r="1.09"/><circle cx="596.8" cy="111.5" r="0.86"/><circle cx="595.2" cy="109.6" r="0.94"/><circle cx="595.7" cy="108.8" r="1.02"/><circle cx="596.5" cy="106.8" r="0.71"/><circle cx="592.5" cy="110.0" r="1.0"/><circle cx="596.0" cy="106.1" r="0.77"/><circle cx="598.3" cy="104.5" r="0.75"/><circle cx="590.3" cy="113.7" r="1.2"/><circle cx="586.7" cy="115.4" r="1.2"/><circle cx="618.5" cy="104.2" r="1.2"/><circle cx="616.2" cy="105.4" r="1.2"/><circle cx="619.7" cy="110.0" r="1.2"/><circle cx="618.5" cy="112.5" r="1.2"/><circle cx="613.2" cy="135.5" r="1.2"/></g><g fill="#fff"><circle cx="603.5" cy="106.0" r="0.8"/><circle cx="605.5" cy="107.0" r="0.8"/><circle cx="587.5" cy="131.5" r="0.8"/></g>
<g fill="none" stroke-width="0.8"><circle cx="628.7" cy="74.7" r="1.0" stroke="#64ff8c"/><circle cx="638.8" cy="81.5" r="1.0" stroke="#41ff1e"/><circle cx="628.7" cy="76.4" r="1.0" stroke="#64ff8c"/><circle cx="624.9" cy="71.4" r="1.0" stroke="#64ff8c"/><circle cx="595.7" cy="139.3" r="1.0" stroke="#1400ff"/><circle cx="594.8" cy="149.6" r="1.0" stroke="#416eff"/><circle cx="605.9" cy="93.9" r="1.0" stroke="#4b91ff"/><circle cx="649.0" cy="61.8" r="1.0" stroke="#ff190a"/><circle cx="636.2" cy="94.9" r="1.0" stroke="#73ffff"/><circle cx="628.5" cy="82.8" r="1.0" stroke="#78fffa"/><circle cx="620.5" cy="82.9" r="1.0" stroke="#73ffc8"/><circle cx="625.1" cy="105.2" r="1.0" stroke="#4b91ff"/><circle cx="625.2" cy="115.7" r="1.0" stroke="#c8c8c4"/><circle cx="620.3" cy="72.3" r="1.0" stroke="#6effaf"/><circle cx="626.4" cy="105.7" r="1.0" stroke="#55afff"/><circle cx="620.5" cy="127.3" r="1.0" stroke="#c8c8c4"/><circle cx="617.1" cy="117.1" r="1.0" stroke="#1400ff"/><circle cx="595.3" cy="148.1" r="1.0" stroke="#416eff"/><circle cx="636.1" cy="60.2" r="1.0" stroke="#f54b19"/><circle cx="638.4" cy="76.3" r="1.0" stroke="#41ff1e"/><circle cx="608.5" cy="100.0" r="1.0" stroke="#4b91ff"/><circle cx="625.4" cy="96.1" r="1.0" stroke="#78fffa"/><circle cx="622.8" cy="105.6" r="1.0" stroke="#416eff"/><circle cx="645.1" cy="87.4" r="1.0" stroke="#78ffe1"/><circle cx="617.5" cy="75.9" r="1.0" stroke="#6effaf"/><circle cx="616.4" cy="111.6" r="1.0" stroke="#55afff"/><circle cx="624.7" cy="70.9" r="1.0" stroke="#4bff32"/><circle cx="598.9" cy="100.7" r="1.0" stroke="#73ffff"/><circle cx="604.2" cy="135.0" r="1.0" stroke="#416eff"/><circle cx="612.7" cy="90.8" r="1.0" stroke="#64cdff"/><circle cx="625.4" cy="63.1" r="1.0" stroke="#f0641e"/><circle cx="636.7" cy="87.3" r="1.0" stroke="#6effaf"/><circle cx="601.2" cy="136.2" r="1.0" stroke="#4b91ff"/><circle cx="599.9" cy="127.2" r="1.0" stroke="#3732ff"/><circle cx="632.8" cy="79.5" r="1.0" stroke="#6effaf"/><circle cx="610.9" cy="85.6" r="1.0" stroke="#78fffa"/><circle cx="611.8" cy="97.3" r="1.0" stroke="#55afff"/><circle cx="624.7" cy="75.5" r="1.0" stroke="#55ff5a"/><circle cx="634.3" cy="70.8" r="1.0" stroke="#46ff0a"/><circle cx="595.7" cy="149.0" r="1.0" stroke="#3732ff"/><circle cx="615.0" cy="128.0" r="1.0" stroke="#c8c8c4"/><circle cx="617.1" cy="123.8" r="1.0" stroke="#416eff"/><circle cx="603.1" cy="129.5" r="1.0" stroke="#416eff"/><circle cx="598.5" cy="137.1" r="1.0" stroke="#1400ff"/><circle cx="640.4" cy="80.2" r="1.0" stroke="#6effaf"/><circle cx="616.1" cy="111.1" r="1.0" stroke="#3732ff"/><circle cx="609.6" cy="98.7" r="1.0" stroke="#416eff"/><circle cx="618.3" cy="88.1" r="1.0" stroke="#73ffff"/><circle cx="605.9" cy="125.2" r="1.0" stroke="#1400ff"/><circle cx="624.1" cy="75.6" r="1.0" stroke="#6effaf"/><circle cx="618.0" cy="110.6" r="1.0" stroke="#1400ff"/><circle cx="633.6" cy="82.3" r="1.0" stroke="#78fffa"/><circle cx="650.0" cy="59.9" r="1.0" stroke="#f0641e"/><circle cx="618.9" cy="97.4" r="1.0" stroke="#4b91ff"/><circle cx="634.1" cy="99.3" r="1.0" stroke="#64cdff"/><circle cx="614.8" cy="123.5" r="1.0" stroke="#3732ff"/><circle cx="640.6" cy="66.7" r="1.0" stroke="#f0641e"/><circle cx="623.9" cy="87.9" r="1.0" stroke="#78fffa"/><circle cx="640.7" cy="75.5" r="1.0" stroke="#73ffc8"/><circle cx="630.8" cy="76.0" r="1.0" stroke="#6effaf"/><circle cx="627.5" cy="64.7" r="1.0" stroke="#c8ff37"/><circle cx="611.0" cy="122.5" r="1.0" stroke="#1400ff"/><circle cx="648.2" cy="62.9" r="1.0" stroke="#f0641e"/><circle cx="630.9" cy="75.9" r="1.0" stroke="#64ff8c"/><circle cx="649.8" cy="62.6" r="1.0" stroke="#46ff0a"/><circle cx="646.4" cy="81.6" r="1.0" stroke="#6effaf"/><circle cx="628.0" cy="90.8" r="1.0" stroke="#73ffc8"/><circle cx="594.9" cy="103.5" r="1.0" stroke="#4b91ff"/><circle cx="611.6" cy="123.9" r="1.0" stroke="#4b91ff"/><circle cx="603.1" cy="102.2" r="1.0" stroke="#3732ff"/><circle cx="635.1" cy="77.7" r="1.0" stroke="#4bff32"/><circle cx="611.3" cy="111.3" r="1.0" stroke="#1400ff"/><circle cx="646.4" cy="64.2" r="1.0" stroke="#f54b19"/><circle cx="629.2" cy="79.7" r="1.0" stroke="#73ffc8"/><circle cx="637.0" cy="81.5" r="1.0" stroke="#78ffe1"/><circle cx="617.6" cy="100.0" r="1.0" stroke="#4b91ff"/><circle cx="624.6" cy="82.4" r="1.0" stroke="#78ffe1"/><circle cx="633.5" cy="74.0" r="1.0" stroke="#46ff0a"/><circle cx="619.0" cy="102.3" r="1.0" stroke="#416eff"/><circle cx="626.7" cy="93.3" r="1.0" stroke="#416eff"/><circle cx="610.0" cy="117.2" r="1.0" stroke="#3732ff"/><circle cx="619.7" cy="104.8" r="1.0" stroke="#416eff"/><circle cx="625.7" cy="103.8" r="1.0" stroke="#1400ff"/><circle cx="609.3" cy="109.7" r="1.0" stroke="#64cdff"/><circle cx="632.6" cy="75.3" r="1.0" stroke="#46ff0a"/><circle cx="607.9" cy="92.8" r="1.0" stroke="#64cdff"/><circle cx="606.8" cy="119.3" r="1.0" stroke="#1400ff"/><circle cx="617.4" cy="120.4" r="1.0" stroke="#4b91ff"/><circle cx="617.6" cy="93.6" r="1.0" stroke="#64cdff"/><circle cx="619.6" cy="84.9" r="1.0" stroke="#73ffff"/><circle cx="631.7" cy="69.7" r="1.0" stroke="#46ff0a"/><circle cx="621.9" cy="102.3" r="1.0" stroke="#55afff"/><circle cx="598.9" cy="126.9" r="1.0" stroke="#1400ff"/><circle cx="630.6" cy="78.9" r="1.0" stroke="#4bff32"/><circle cx="598.0" cy="102.2" r="1.0" stroke="#4b91ff"/><circle cx="627.0" cy="73.5" r="1.0" stroke="#55ff5a"/><circle cx="630.0" cy="59.2" r="1.0" stroke="#f0641e"/><circle cx="609.7" cy="114.1" r="1.0" stroke="#1400ff"/><circle cx="626.9" cy="103.2" r="1.0" stroke="#416eff"/><circle cx="613.4" cy="89.7" r="1.0" stroke="#73ffc8"/><circle cx="631.4" cy="82.4" r="1.0" stroke="#73ffc8"/><circle cx="596.9" cy="100.7" r="1.0" stroke="#4b91ff"/><circle cx="629.1" cy="62.8" r="1.0" stroke="#ee9b2d"/><circle cx="636.9" cy="64.3" r="1.0" stroke="#e6ff3c"/><circle cx="634.1" cy="106.4" r="1.0" stroke="#1400ff"/><circle cx="617.7" cy="97.8" r="1.0" stroke="#55afff"/><circle cx="616.6" cy="114.5" r="1.0" stroke="#1400ff"/><circle cx="604.7" cy="121.9" r="1.0" stroke="#3732ff"/><circle cx="665.3" cy="56.2" r="1.0" stroke="#fa230f"/><circle cx="598.8" cy="147.4" r="1.0" stroke="#1400ff"/><circle cx="638.3" cy="67.7" r="1.0" stroke="#64ff14"/><circle cx="603.3" cy="130.4" r="1.0" stroke="#1400ff"/><circle cx="640.6" cy="92.3" r="1.0" stroke="#78ffe1"/><circle cx="613.2" cy="99.9" r="1.0" stroke="#1400ff"/><circle cx="598.7" cy="137.8" r="1.0" stroke="#3732ff"/><circle cx="626.4" cy="108.1" r="1.0" stroke="#1400ff"/><circle cx="648.6" cy="72.7" r="1.0" stroke="#4bff32"/><circle cx="639.0" cy="65.2" r="1.0" stroke="#f0e146"/><circle cx="641.0" cy="61.0" r="1.0" stroke="#f08228"/><circle cx="611.1" cy="86.5" r="1.0" stroke="#78fffa"/><circle cx="630.6" cy="59.7" r="1.0" stroke="#f5fa46"/><circle cx="609.1" cy="85.0" r="1.0" stroke="#64cdff"/><circle cx="647.1" cy="63.0" r="1.0" stroke="#f54b19"/><circle cx="619.7" cy="103.4" r="1.0" stroke="#416eff"/><circle cx="664.9" cy="55.7" r="1.0" stroke="#f0641e"/><circle cx="617.9" cy="93.4" r="1.0" stroke="#73ffff"/><circle cx="642.4" cy="79.6" r="1.0" stroke="#4bff32"/><circle cx="633.0" cy="77.3" r="1.0" stroke="#46ff0a"/><circle cx="644.8" cy="84.6" r="1.0" stroke="#78ffe1"/><circle cx="628.7" cy="99.8" r="1.0" stroke="#3732ff"/><circle cx="607.6" cy="118.8" r="1.0" stroke="#416eff"/><circle cx="606.2" cy="93.6" r="1.0" stroke="#4b91ff"/><circle cx="633.8" cy="69.0" r="1.0" stroke="#55ff0f"/><circle cx="619.5" cy="76.8" r="1.0" stroke="#78fffa"/><circle cx="603.9" cy="132.4" r="1.0" stroke="#1400ff"/><circle cx="626.9" cy="87.1" r="1.0" stroke="#73ffc8"/><circle cx="626.6" cy="96.8" r="1.0" stroke="#1400ff"/><circle cx="617.2" cy="97.8" r="1.0" stroke="#3732ff"/><circle cx="626.6" cy="94.7" r="1.0" stroke="#416eff"/><circle cx="615.2" cy="125.1" r="1.0" stroke="#3732ff"/><circle cx="597.4" cy="146.7" r="1.0" stroke="#1400ff"/><circle cx="599.7" cy="135.0" r="1.0" stroke="#3732ff"/><circle cx="642.2" cy="66.5" r="1.0" stroke="#8cff23"/><circle cx="604.8" cy="123.3" r="1.0" stroke="#1400ff"/><circle cx="617.5" cy="74.7" r="1.0" stroke="#78ffe1"/><circle cx="625.9" cy="98.0" r="1.0" stroke="#4b91ff"/><circle cx="631.5" cy="59.0" r="1.0" stroke="#f0e146"/><circle cx="666.2" cy="55.3" r="1.0" stroke="#f0641e"/><circle cx="640.9" cy="81.5" r="1.0" stroke="#55ff5a"/><circle cx="631.1" cy="86.3" r="1.0" stroke="#6effaf"/><circle cx="609.9" cy="127.3" r="1.0" stroke="#4b91ff"/><circle cx="632.0" cy="88.1" r="1.0" stroke="#78fffa"/><circle cx="621.6" cy="96.3" r="1.0" stroke="#1400ff"/><circle cx="623.7" cy="75.9" r="1.0" stroke="#78fffa"/><circle cx="623.5" cy="106.9" r="1.0" stroke="#4b91ff"/><circle cx="619.8" cy="101.8" r="1.0" stroke="#3732ff"/><circle cx="630.1" cy="94.4" r="1.0" stroke="#55afff"/><circle cx="630.9" cy="72.7" r="1.0" stroke="#4bff32"/><circle cx="632.1" cy="93.8" r="1.0" stroke="#416eff"/><circle cx="607.9" cy="124.2" r="1.0" stroke="#1400ff"/><circle cx="622.4" cy="121.6" r="1.0" stroke="#416eff"/><circle cx="636.4" cy="82.4" r="1.0" stroke="#64ff8c"/><circle cx="610.4" cy="120.0" r="1.0" stroke="#416eff"/><circle cx="615.7" cy="96.2" r="1.0" stroke="#64cdff"/><circle cx="615.9" cy="81.2" r="1.0" stroke="#73ffff"/><circle cx="627.6" cy="100.9" r="1.0" stroke="#1400ff"/><circle cx="629.6" cy="68.1" r="1.0" stroke="#46ff0a"/><circle cx="594.6" cy="141.5" r="1.0" stroke="#416eff"/><circle cx="633.6" cy="79.6" r="1.0" stroke="#4bff32"/><circle cx="643.7" cy="62.0" r="1.0" stroke="#ee9b2d"/><circle cx="604.7" cy="101.5" r="1.0" stroke="#1400ff"/><circle cx="624.4" cy="120.3" r="1.0" stroke="#416eff"/><circle cx="595.4" cy="137.9" r="1.0" stroke="#4b91ff"/><circle cx="596.0" cy="121.2" r="1.0" stroke="#55afff"/><circle cx="607.9" cy="124.8" r="1.0" stroke="#1400ff"/><circle cx="619.7" cy="82.1" r="1.0" stroke="#78fffa"/><circle cx="629.6" cy="107.0" r="1.0" stroke="#55afff"/><circle cx="620.4" cy="95.9" r="1.0" stroke="#4b91ff"/><circle cx="619.9" cy="95.4" r="1.0" stroke="#416eff"/><circle cx="621.6" cy="103.3" r="1.0" stroke="#64cdff"/><circle cx="631.1" cy="62.0" r="1.0" stroke="#ff190a"/><circle cx="631.5" cy="74.7" r="1.0" stroke="#41ff1e"/><circle cx="631.3" cy="96.5" r="1.0" stroke="#73ffff"/><circle cx="618.4" cy="109.6" r="1.0" stroke="#3732ff"/><circle cx="605.5" cy="103.3" r="1.0" stroke="#3732ff"/><circle cx="631.1" cy="88.5" r="1.0" stroke="#55afff"/><circle cx="617.6" cy="99.1" r="1.0" stroke="#55afff"/><circle cx="636.0" cy="75.9" r="1.0" stroke="#41ff1e"/><circle cx="648.8" cy="73.3" r="1.0" stroke="#41ff1e"/><circle cx="651.1" cy="69.7" r="1.0" stroke="#55ff0f"/><circle cx="584.4" cy="144.2" r="1.0" stroke="#1400ff"/><circle cx="600.0" cy="109.1" r="1.0" stroke="#416eff"/><circle cx="627.7" cy="86.4" r="1.0" stroke="#6effaf"/><circle cx="635.5" cy="104.0" r="1.0" stroke="#3732ff"/><circle cx="611.8" cy="108.8" r="1.0" stroke="#416eff"/><circle cx="648.6" cy="63.2" r="1.0" stroke="#55ff0f"/><circle cx="601.3" cy="129.2" r="1.0" stroke="#4b91ff"/><circle cx="608.2" cy="128.4" r="1.0" stroke="#1400ff"/><circle cx="615.2" cy="97.4" r="1.0" stroke="#416eff"/><circle cx="639.0" cy="61.1" r="1.0" stroke="#ff190a"/><circle cx="648.9" cy="72.4" r="1.0" stroke="#41ff1e"/><circle cx="621.3" cy="107.0" r="1.0" stroke="#1400ff"/><circle cx="623.8" cy="93.6" r="1.0" stroke="#55afff"/><circle cx="648.2" cy="65.1" r="1.0" stroke="#f0e146"/><circle cx="616.4" cy="88.0" r="1.0" stroke="#78fffa"/><circle cx="621.4" cy="100.1" r="1.0" stroke="#1400ff"/><circle cx="623.3" cy="91.6" r="1.0" stroke="#55afff"/><circle cx="636.8" cy="90.7" r="1.0" stroke="#55ff5a"/><circle cx="622.8" cy="90.4" r="1.0" stroke="#78ffe1"/><circle cx="627.0" cy="81.5" r="1.0" stroke="#73ffc8"/><circle cx="621.0" cy="103.9" r="1.0" stroke="#1400ff"/><circle cx="634.4" cy="97.4" r="1.0" stroke="#64cdff"/><circle cx="648.5" cy="66.7" r="1.0" stroke="#f54b19"/><circle cx="610.2" cy="113.4" r="1.0" stroke="#64cdff"/><circle cx="603.0" cy="127.2" r="1.0" stroke="#1400ff"/><circle cx="611.9" cy="129.7" r="1.0" stroke="#1400ff"/><circle cx="612.8" cy="112.5" r="1.0" stroke="#4b91ff"/><circle cx="597.8" cy="148.1" r="1.0" stroke="#3732ff"/><circle cx="660.9" cy="66.4" r="1.0" stroke="#41ff05"/><circle cx="632.7" cy="91.1" r="1.0" stroke="#73ffc8"/><circle cx="621.3" cy="75.3" r="1.0" stroke="#73ffff"/><circle cx="626.6" cy="116.8" r="1.0" stroke="#1400ff"/><circle cx="607.1" cy="87.4" r="1.0" stroke="#64cdff"/><circle cx="634.0" cy="60.7" r="1.0" stroke="#f5fa46"/><circle cx="623.8" cy="76.2" r="1.0" stroke="#6effaf"/><circle cx="630.0" cy="91.8" r="1.0" stroke="#78ffe1"/><circle cx="609.8" cy="114.4" r="1.0" stroke="#1400ff"/><circle cx="612.1" cy="87.0" r="1.0" stroke="#55afff"/><circle cx="615.1" cy="110.3" r="1.0" stroke="#4b91ff"/><circle cx="631.5" cy="98.9" r="1.0" stroke="#64cdff"/><circle cx="625.0" cy="91.4" r="1.0" stroke="#78ffe1"/><circle cx="635.2" cy="99.9" r="1.0" stroke="#3732ff"/><circle cx="614.8" cy="111.7" r="1.0" stroke="#4b91ff"/><circle cx="641.0" cy="77.0" r="1.0" stroke="#4bff32"/><circle cx="634.4" cy="75.3" r="1.0" stroke="#55ff0f"/><circle cx="627.7" cy="81.2" r="1.0" stroke="#73ffc8"/><circle cx="623.6" cy="102.7" r="1.0" stroke="#55afff"/><circle cx="630.1" cy="91.3" r="1.0" stroke="#55afff"/><circle cx="637.1" cy="74.3" r="1.0" stroke="#41ff05"/><circle cx="641.8" cy="80.0" r="1.0" stroke="#46ff0a"/><circle cx="608.9" cy="125.7" r="1.0" stroke="#3732ff"/><circle cx="637.7" cy="81.1" r="1.0" stroke="#4bff32"/><circle cx="591.9" cy="134.7" r="1.0" stroke="#416eff"/><circle cx="632.5" cy="62.9" r="1.0" stroke="#ee9b2d"/><circle cx="613.5" cy="100.9" r="1.0" stroke="#416eff"/><circle cx="594.1" cy="140.5" r="1.0" stroke="#1400ff"/><circle cx="613.1" cy="97.2" r="1.0" stroke="#4b91ff"/><circle cx="596.8" cy="134.6" r="1.0" stroke="#1400ff"/><circle cx="634.1" cy="72.5" r="1.0" stroke="#4bff32"/><circle cx="615.8" cy="120.4" r="1.0" stroke="#4b91ff"/><circle cx="594.1" cy="122.9" r="1.0" stroke="#4b91ff"/><circle cx="634.4" cy="89.2" r="1.0" stroke="#6effaf"/><circle cx="611.2" cy="123.7" r="1.0" stroke="#3732ff"/><circle cx="626.2" cy="99.2" r="1.0" stroke="#4b91ff"/><circle cx="616.7" cy="82.1" r="1.0" stroke="#6effaf"/><circle cx="636.7" cy="68.7" r="1.0" stroke="#46ff0a"/><circle cx="614.7" cy="81.2" r="1.0" stroke="#73ffc8"/><circle cx="591.8" cy="136.4" r="1.0" stroke="#416eff"/><circle cx="631.2" cy="75.4" r="1.0" stroke="#6effaf"/><circle cx="661.6" cy="56.5" r="1.0" stroke="#f0641e"/><circle cx="607.4" cy="113.6" r="1.0" stroke="#4b91ff"/><circle cx="627.3" cy="99.8" r="1.0" stroke="#416eff"/><circle cx="622.1" cy="105.0" r="1.0" stroke="#55afff"/><circle cx="628.3" cy="113.8" r="1.0" stroke="#3732ff"/><circle cx="596.8" cy="133.8" r="1.0" stroke="#1400ff"/><circle cx="612.2" cy="127.0" r="1.0" stroke="#416eff"/><circle cx="628.9" cy="65.2" r="1.0" stroke="#f0641e"/><circle cx="617.6" cy="81.5" r="1.0" stroke="#73ffc8"/><circle cx="631.4" cy="67.9" r="1.0" stroke="#41ff05"/><circle cx="630.7" cy="65.5" r="1.0" stroke="#ebb937"/><circle cx="622.7" cy="110.1" r="1.0" stroke="#1400ff"/><circle cx="631.4" cy="62.1" r="1.0" stroke="#ee9b2d"/><circle cx="659.4" cy="55.9" r="1.0" stroke="#fa230f"/><circle cx="608.5" cy="109.1" r="1.0" stroke="#64cdff"/><circle cx="639.0" cy="84.0" r="1.0" stroke="#41ff05"/><circle cx="615.2" cy="93.8" r="1.0" stroke="#78ffe1"/><circle cx="615.0" cy="103.7" r="1.0" stroke="#55afff"/><circle cx="622.3" cy="89.9" r="1.0" stroke="#55afff"/><circle cx="622.2" cy="89.7" r="1.0" stroke="#73ffff"/><circle cx="631.1" cy="80.9" r="1.0" stroke="#73ffc8"/><circle cx="626.1" cy="116.2" r="1.0" stroke="#3732ff"/><circle cx="612.1" cy="105.8" r="1.0" stroke="#4b91ff"/><circle cx="604.4" cy="125.5" r="1.0" stroke="#4b91ff"/><circle cx="602.6" cy="137.9" r="1.0" stroke="#3732ff"/><circle cx="629.2" cy="97.0" r="1.0" stroke="#78fffa"/><circle cx="659.3" cy="69.5" r="1.0" stroke="#46ff0a"/><circle cx="628.1" cy="105.8" r="1.0" stroke="#3732ff"/><circle cx="609.0" cy="86.7" r="1.0" stroke="#64cdff"/><circle cx="607.3" cy="132.2" r="1.0" stroke="#1400ff"/><circle cx="630.5" cy="80.7" r="1.0" stroke="#55ff5a"/><circle cx="603.3" cy="113.3" r="1.0" stroke="#4b91ff"/><circle cx="627.8" cy="94.4" r="1.0" stroke="#73ffff"/><circle cx="589.7" cy="143.4" r="1.0" stroke="#1400ff"/><circle cx="611.3" cy="105.1" r="1.0" stroke="#416eff"/><circle cx="615.1" cy="124.3" r="1.0" stroke="#c8c8c4"/><circle cx="623.7" cy="114.7" r="1.0" stroke="#3732ff"/><circle cx="645.2" cy="68.5" r="1.0" stroke="#64ff14"/><circle cx="627.7" cy="70.1" r="1.0" stroke="#55ff5a"/><circle cx="593.4" cy="133.5" r="1.0" stroke="#3732ff"/><circle cx="609.9" cy="97.1" r="1.0" stroke="#416eff"/><circle cx="633.8" cy="83.0" r="1.0" stroke="#78ffe1"/><circle cx="649.6" cy="79.5" r="1.0" stroke="#64ff8c"/><circle cx="658.5" cy="66.5" r="1.0" stroke="#46ff0a"/><circle cx="609.2" cy="88.8" r="1.0" stroke="#64cdff"/><circle cx="628.8" cy="83.8" r="1.0" stroke="#4bff32"/><circle cx="627.7" cy="67.7" r="1.0" stroke="#64ff14"/><circle cx="644.1" cy="81.2" r="1.0" stroke="#78ffe1"/><circle cx="637.9" cy="78.2" r="1.0" stroke="#4bff32"/><circle cx="594.9" cy="149.9" r="1.0" stroke="#1400ff"/><circle cx="613.3" cy="116.9" r="1.0" stroke="#416eff"/><circle cx="615.9" cy="113.3" r="1.0" stroke="#1400ff"/><circle cx="632.9" cy="57.7" r="1.0" stroke="#ee9b2d"/><circle cx="629.2" cy="88.7" r="1.0" stroke="#78fffa"/><circle cx="611.7" cy="124.8" r="1.0" stroke="#1400ff"/><circle cx="645.0" cy="58.2" r="1.0" stroke="#f0e146"/><circle cx="625.8" cy="86.9" r="1.0" stroke="#6effaf"/><circle cx="633.2" cy="63.1" r="1.0" stroke="#f54b19"/><circle cx="604.2" cy="136.1" r="1.0" stroke="#3732ff"/><circle cx="607.9" cy="90.6" r="1.0" stroke="#78fffa"/><circle cx="620.8" cy="77.7" r="1.0" stroke="#73ffc8"/><circle cx="630.1" cy="78.2" r="1.0" stroke="#41ff1e"/><circle cx="637.4" cy="73.9" r="1.0" stroke="#46ff0a"/><circle cx="632.6" cy="100.2" r="1.0" stroke="#4b91ff"/><circle cx="629.3" cy="75.6" r="1.0" stroke="#4bff32"/><circle cx="603.0" cy="92.6" r="1.0" stroke="#55afff"/><circle cx="627.7" cy="112.4" r="1.0" stroke="#416eff"/><circle cx="623.4" cy="86.6" r="1.0" stroke="#78fffa"/><circle cx="619.5" cy="85.8" r="1.0" stroke="#73ffc8"/><circle cx="631.1" cy="66.4" r="1.0" stroke="#64ff14"/><circle cx="635.8" cy="79.8" r="1.0" stroke="#55ff5a"/><circle cx="641.5" cy="62.4" r="1.0" stroke="#f0641e"/><circle cx="619.7" cy="73.4" r="1.0" stroke="#78fffa"/><circle cx="606.0" cy="107.8" r="1.0" stroke="#3732ff"/><circle cx="634.3" cy="61.6" r="1.0" stroke="#f54b19"/><circle cx="615.1" cy="85.7" r="1.0" stroke="#78fffa"/><circle cx="635.8" cy="57.2" r="1.0" stroke="#ee9b2d"/><circle cx="603.9" cy="91.1" r="1.0" stroke="#4b91ff"/><circle cx="626.6" cy="71.8" r="1.0" stroke="#64ff8c"/><circle cx="627.3" cy="83.4" r="1.0" stroke="#55ff5a"/><circle cx="624.1" cy="110.8" r="1.0" stroke="#4b91ff"/><circle cx="633.6" cy="91.3" r="1.0" stroke="#6effaf"/><circle cx="589.5" cy="141.2" r="1.0" stroke="#1400ff"/><circle cx="627.4" cy="99.2" r="1.0" stroke="#416eff"/><circle cx="647.9" cy="61.5" r="1.0" stroke="#f08228"/><circle cx="647.0" cy="58.8" r="1.0" stroke="#f0641e"/><circle cx="602.5" cy="125.0" r="1.0" stroke="#416eff"/><circle cx="642.6" cy="83.6" r="1.0" stroke="#55ff5a"/><circle cx="623.5" cy="99.6" r="1.0" stroke="#416eff"/><circle cx="647.5" cy="90.9" r="1.0" stroke="#55ff0f"/><circle cx="600.8" cy="133.9" r="1.0" stroke="#1400ff"/><circle cx="610.2" cy="113.9" r="1.0" stroke="#64cdff"/><circle cx="628.4" cy="87.1" r="1.0" stroke="#78fffa"/><circle cx="630.5" cy="96.8" r="1.0" stroke="#4b91ff"/><circle cx="638.1" cy="93.0" r="1.0" stroke="#78ffe1"/><circle cx="629.4" cy="81.2" r="1.0" stroke="#64ff8c"/><circle cx="624.9" cy="82.8" r="1.0" stroke="#78ffe1"/><circle cx="610.9" cy="117.8" r="1.0" stroke="#1400ff"/><circle cx="603.1" cy="130.2" r="1.0" stroke="#1400ff"/><circle cx="609.8" cy="101.5" r="1.0" stroke="#55afff"/><circle cx="616.1" cy="76.5" r="1.0" stroke="#73ffc8"/><circle cx="603.4" cy="136.1" r="1.0" stroke="#1400ff"/><circle cx="601.1" cy="143.6" r="1.0" stroke="#1400ff"/><circle cx="630.6" cy="96.6" r="1.0" stroke="#55afff"/><circle cx="622.6" cy="87.9" r="1.0" stroke="#78fffa"/><circle cx="623.7" cy="74.6" r="1.0" stroke="#78ffe1"/><circle cx="621.5" cy="91.5" r="1.0" stroke="#64cdff"/><circle cx="633.2" cy="97.9" r="1.0" stroke="#1400ff"/><circle cx="632.2" cy="103.1" r="1.0" stroke="#1400ff"/><circle cx="647.7" cy="65.0" r="1.0" stroke="#f0641e"/><circle cx="634.9" cy="87.8" r="1.0" stroke="#78ffe1"/><circle cx="618.6" cy="117.9" r="1.0" stroke="#1400ff"/><circle cx="651.5" cy="75.2" r="1.0" stroke="#41ff05"/><circle cx="621.8" cy="89.6" r="1.0" stroke="#64cdff"/><circle cx="616.6" cy="90.6" r="1.0" stroke="#73ffff"/><circle cx="638.5" cy="92.6" r="1.0" stroke="#78fffa"/><circle cx="631.8" cy="62.2" r="1.0" stroke="#f0641e"/><circle cx="635.4" cy="83.0" r="1.0" stroke="#6effaf"/><circle cx="627.2" cy="94.6" r="1.0" stroke="#55afff"/><circle cx="600.6" cy="126.9" r="1.0" stroke="#416eff"/><circle cx="646.0" cy="63.8" r="1.0" stroke="#ff190a"/><circle cx="636.7" cy="74.7" r="1.0" stroke="#46ff0a"/><circle cx="592.7" cy="139.5" r="1.0" stroke="#1400ff"/><circle cx="629.4" cy="94.8" r="1.0" stroke="#78fffa"/><circle cx="619.1" cy="81.6" r="1.0" stroke="#73ffff"/><circle cx="634.0" cy="80.2" r="1.0" stroke="#6effaf"/><circle cx="611.0" cy="123.9" r="1.0" stroke="#4b91ff"/><circle cx="619.2" cy="87.9" r="1.0" stroke="#73ffc8"/><circle cx="615.5" cy="92.1" r="1.0" stroke="#64cdff"/><circle cx="623.4" cy="98.4" r="1.0" stroke="#55afff"/><circle cx="631.9" cy="62.5" r="1.0" stroke="#f0641e"/><circle cx="627.5" cy="106.7" r="1.0" stroke="#4b91ff"/><circle cx="643.2" cy="61.4" r="1.0" stroke="#f54b19"/><circle cx="636.2" cy="64.3" r="1.0" stroke="#ebb937"/><circle cx="611.3" cy="101.4" r="1.0" stroke="#4b91ff"/><circle cx="632.5" cy="74.9" r="1.0" stroke="#64ff8c"/><circle cx="630.8" cy="91.4" r="1.0" stroke="#78fffa"/><circle cx="640.4" cy="93.8" r="1.0" stroke="#55ff5a"/><circle cx="624.7" cy="78.5" r="1.0" stroke="#64ff8c"/><circle cx="625.8" cy="79.3" r="1.0" stroke="#55ff5a"/><circle cx="613.6" cy="98.9" r="1.0" stroke="#416eff"/><circle cx="611.6" cy="116.5" r="1.0" stroke="#1400ff"/><circle cx="621.2" cy="93.4" r="1.0" stroke="#416eff"/><circle cx="632.4" cy="111.0" r="1.0" stroke="#1400ff"/><circle cx="628.5" cy="103.6" r="1.0" stroke="#1400ff"/><circle cx="624.1" cy="99.2" r="1.0" stroke="#64cdff"/><circle cx="624.2" cy="96.1" r="1.0" stroke="#416eff"/><circle cx="612.6" cy="94.9" r="1.0" stroke="#73ffff"/><circle cx="603.7" cy="102.6" r="1.0" stroke="#3732ff"/><circle cx="638.2" cy="62.7" r="1.0" stroke="#ebb937"/><circle cx="623.3" cy="91.6" r="1.0" stroke="#78fffa"/><circle cx="602.3" cy="133.9" r="1.0" stroke="#1400ff"/><circle cx="634.7" cy="56.2" r="1.0" stroke="#f0e146"/><circle cx="634.0" cy="94.5" r="1.0" stroke="#55afff"/><circle cx="639.4" cy="88.3" r="1.0" stroke="#73ffc8"/><circle cx="606.5" cy="122.7" r="1.0" stroke="#1400ff"/><circle cx="631.9" cy="72.6" r="1.0" stroke="#4bff32"/><circle cx="617.8" cy="127.7" r="1.0" stroke="#c8c8c4"/><circle cx="596.9" cy="133.4" r="1.0" stroke="#416eff"/><circle cx="609.0" cy="115.9" r="1.0" stroke="#1400ff"/><circle cx="629.5" cy="111.5" r="1.0" stroke="#1400ff"/><circle cx="630.0" cy="68.3" r="1.0" stroke="#64ff14"/><circle cx="632.6" cy="76.1" r="1.0" stroke="#4bff32"/><circle cx="628.0" cy="96.4" r="1.0" stroke="#1400ff"/><circle cx="634.6" cy="70.1" r="1.0" stroke="#64ff14"/><circle cx="611.0" cy="130.1" r="1.0" stroke="#3732ff"/><circle cx="621.4" cy="107.0" r="1.0" stroke="#416eff"/><circle cx="623.4" cy="104.5" r="1.0" stroke="#1400ff"/><circle cx="637.1" cy="69.9" r="1.0" stroke="#46ff0a"/><circle cx="637.4" cy="83.7" r="1.0" stroke="#6effaf"/><circle cx="621.5" cy="74.7" r="1.0" stroke="#78ffe1"/><circle cx="641.8" cy="62.8" r="1.0" stroke="#ebb937"/><circle cx="625.2" cy="86.1" r="1.0" stroke="#78ffe1"/><circle cx="631.9" cy="88.3" r="1.0" stroke="#64cdff"/><circle cx="634.0" cy="92.2" r="1.0" stroke="#416eff"/><circle cx="625.1" cy="105.8" r="1.0" stroke="#3732ff"/><circle cx="618.8" cy="92.9" r="1.0" stroke="#64cdff"/><circle cx="607.2" cy="125.9" r="1.0" stroke="#1400ff"/><circle cx="615.1" cy="121.6" r="1.0" stroke="#416eff"/><circle cx="595.6" cy="132.0" r="1.0" stroke="#1400ff"/><circle cx="605.3" cy="123.8" r="1.0" stroke="#1400ff"/><circle cx="616.9" cy="106.1" r="1.0" stroke="#55afff"/><circle cx="632.5" cy="82.1" r="1.0" stroke="#6effaf"/><circle cx="652.8" cy="61.4" r="1.0" stroke="#f54b19"/><circle cx="614.8" cy="108.6" r="1.0" stroke="#416eff"/><circle cx="628.1" cy="99.8" r="1.0" stroke="#1400ff"/><circle cx="603.4" cy="135.9" r="1.0" stroke="#1400ff"/><circle cx="647.6" cy="64.9" r="1.0" stroke="#ee9b2d"/><circle cx="631.0" cy="90.5" r="1.0" stroke="#64ff8c"/><circle cx="613.0" cy="119.9" r="1.0" stroke="#416eff"/><circle cx="652.1" cy="64.0" r="1.0" stroke="#f54b19"/><circle cx="615.4" cy="90.4" r="1.0" stroke="#78fffa"/><circle cx="613.8" cy="102.5" r="1.0" stroke="#55afff"/><circle cx="630.0" cy="81.3" r="1.0" stroke="#78fffa"/><circle cx="611.6" cy="99.2" r="1.0" stroke="#4b91ff"/><circle cx="638.0" cy="93.2" r="1.0" stroke="#6effaf"/><circle cx="624.6" cy="96.7" r="1.0" stroke="#4b91ff"/><circle cx="633.4" cy="63.9" r="1.0" stroke="#f54b19"/><circle cx="635.4" cy="93.8" r="1.0" stroke="#73ffc8"/><circle cx="623.8" cy="116.1" r="1.0" stroke="#c8c8c4"/><circle cx="622.3" cy="107.7" r="1.0" stroke="#1400ff"/><circle cx="621.4" cy="95.2" r="1.0" stroke="#55afff"/><circle cx="623.4" cy="113.3" r="1.0" stroke="#4b91ff"/><circle cx="638.1" cy="68.4" r="1.0" stroke="#8cff23"/><circle cx="616.3" cy="88.7" r="1.0" stroke="#73ffff"/><circle cx="634.3" cy="95.0" r="1.0" stroke="#55afff"/><circle cx="638.9" cy="61.2" r="1.0" stroke="#f54b19"/><circle cx="598.2" cy="139.9" r="1.0" stroke="#416eff"/><circle cx="600.9" cy="134.1" r="1.0" stroke="#1400ff"/><circle cx="619.4" cy="113.0" r="1.0" stroke="#4b91ff"/><circle cx="627.7" cy="101.1" r="1.0" stroke="#55afff"/><circle cx="655.3" cy="64.4" r="1.0" stroke="#46ff0a"/><circle cx="630.5" cy="60.3" r="1.0" stroke="#f54b19"/><circle cx="636.9" cy="77.2" r="1.0" stroke="#46ff0a"/><circle cx="653.1" cy="69.3" r="1.0" stroke="#41ff1e"/><circle cx="637.5" cy="70.4" r="1.0" stroke="#4bff32"/><circle cx="606.4" cy="103.6" r="1.0" stroke="#416eff"/><circle cx="605.4" cy="127.1" r="1.0" stroke="#1400ff"/><circle cx="631.0" cy="67.6" r="1.0" stroke="#64ff14"/><circle cx="647.5" cy="77.9" r="1.0" stroke="#41ff1e"/><circle cx="621.7" cy="104.3" r="1.0" stroke="#4b91ff"/><circle cx="654.7" cy="72.9" r="1.0" stroke="#41ff1e"/><circle cx="631.4" cy="61.3" r="1.0" stroke="#f0e146"/><circle cx="633.0" cy="58.1" r="1.0" stroke="#ee9b2d"/><circle cx="636.8" cy="63.1" r="1.0" stroke="#ebb937"/><circle cx="634.5" cy="83.7" r="1.0" stroke="#64cdff"/><circle cx="616.2" cy="111.0" r="1.0" stroke="#1400ff"/><circle cx="601.4" cy="131.0" r="1.0" stroke="#1400ff"/><circle cx="617.8" cy="81.3" r="1.0" stroke="#78ffe1"/><circle cx="629.2" cy="79.7" r="1.0" stroke="#6effaf"/><circle cx="637.5" cy="103.5" r="1.0" stroke="#1400ff"/><circle cx="638.7" cy="82.3" r="1.0" stroke="#78fffa"/><circle cx="605.4" cy="125.0" r="1.0" stroke="#3732ff"/><circle cx="610.4" cy="99.9" r="1.0" stroke="#55afff"/><circle cx="652.8" cy="61.3" r="1.0" stroke="#fa230f"/><circle cx="644.9" cy="60.8" r="1.0" stroke="#f08228"/><circle cx="629.7" cy="78.1" r="1.0" stroke="#64ff8c"/><circle cx="621.7" cy="111.3" r="1.0" stroke="#4b91ff"/><circle cx="633.3" cy="89.6" r="1.0" stroke="#78fffa"/><circle cx="612.5" cy="96.6" r="1.0" stroke="#3732ff"/><circle cx="619.2" cy="90.2" r="1.0" stroke="#64cdff"/><circle cx="591.6" cy="136.0" r="1.0" stroke="#416eff"/><circle cx="630.5" cy="70.5" r="1.0" stroke="#64ff8c"/><circle cx="646.2" cy="58.2" r="1.0" stroke="#f54b19"/><circle cx="610.5" cy="125.1" r="1.0" stroke="#4b91ff"/><circle cx="636.1" cy="89.2" r="1.0" stroke="#55ff5a"/><circle cx="630.6" cy="94.4" r="1.0" stroke="#55afff"/><circle cx="604.4" cy="94.5" r="1.0" stroke="#4b91ff"/><circle cx="627.3" cy="78.6" r="1.0" stroke="#46ff0a"/><circle cx="614.4" cy="91.3" r="1.0" stroke="#78ffe1"/><circle cx="631.2" cy="86.7" r="1.0" stroke="#78ffe1"/><circle cx="628.6" cy="91.1" r="1.0" stroke="#78ffe1"/><circle cx="628.0" cy="92.4" r="1.0" stroke="#64cdff"/><circle cx="632.6" cy="66.9" r="1.0" stroke="#41ff05"/><circle cx="629.4" cy="65.7" r="1.0" stroke="#ebb937"/><circle cx="614.6" cy="110.7" r="1.0" stroke="#4b91ff"/><circle cx="644.3" cy="80.3" r="1.0" stroke="#6effaf"/><circle cx="599.5" cy="133.2" r="1.0" stroke="#1400ff"/><circle cx="627.6" cy="71.3" r="1.0" stroke="#55ff5a"/><circle cx="619.0" cy="113.0" r="1.0" stroke="#416eff"/><circle cx="615.9" cy="107.5" r="1.0" stroke="#4b91ff"/><circle cx="615.3" cy="79.1" r="1.0" stroke="#64cdff"/><circle cx="623.0" cy="92.7" r="1.0" stroke="#55afff"/><circle cx="606.8" cy="91.6" r="1.0" stroke="#4b91ff"/><circle cx="618.4" cy="110.9" r="1.0" stroke="#4b91ff"/><circle cx="625.9" cy="96.2" r="1.0" stroke="#416eff"/><circle cx="634.1" cy="57.5" r="1.0" stroke="#f0e146"/><circle cx="617.8" cy="102.0" r="1.0" stroke="#3732ff"/><circle cx="616.8" cy="77.0" r="1.0" stroke="#78ffe1"/><circle cx="637.4" cy="78.4" r="1.0" stroke="#55ff5a"/><circle cx="617.8" cy="110.9" r="1.0" stroke="#416eff"/><circle cx="623.9" cy="57.5" r="1.0" stroke="#f54b19"/><circle cx="622.4" cy="99.8" r="1.0" stroke="#416eff"/><circle cx="629.9" cy="75.9" r="1.0" stroke="#64ff8c"/><circle cx="601.1" cy="107.7" r="1.0" stroke="#416eff"/><circle cx="610.5" cy="111.3" r="1.0" stroke="#416eff"/><circle cx="639.1" cy="75.0" r="1.0" stroke="#41ff1e"/><circle cx="638.5" cy="65.3" r="1.0" stroke="#ff190a"/><circle cx="630.3" cy="104.9" r="1.0" stroke="#4b91ff"/><circle cx="622.9" cy="109.5" r="1.0" stroke="#64cdff"/><circle cx="609.0" cy="103.3" r="1.0" stroke="#416eff"/><circle cx="631.6" cy="99.1" r="1.0" stroke="#4b91ff"/><circle cx="631.7" cy="94.0" r="1.0" stroke="#416eff"/><circle cx="618.3" cy="73.1" r="1.0" stroke="#78ffe1"/><circle cx="625.0" cy="86.2" r="1.0" stroke="#78ffe1"/><circle cx="627.7" cy="91.6" r="1.0" stroke="#64cdff"/><circle cx="618.6" cy="104.9" r="1.0" stroke="#4b91ff"/><circle cx="624.2" cy="84.1" r="1.0" stroke="#73ffc8"/><circle cx="601.6" cy="96.6" r="1.0" stroke="#55afff"/><circle cx="640.5" cy="75.0" r="1.0" stroke="#41ff1e"/><circle cx="614.3" cy="114.7" r="1.0" stroke="#1400ff"/><circle cx="636.2" cy="60.9" r="1.0" stroke="#fa230f"/><circle cx="604.2" cy="113.6" r="1.0" stroke="#416eff"/><circle cx="594.9" cy="138.0" r="1.0" stroke="#3732ff"/><circle cx="625.4" cy="79.4" r="1.0" stroke="#78ffe1"/><circle cx="631.1" cy="74.2" r="1.0" stroke="#6effaf"/><circle cx="642.3" cy="72.8" r="1.0" stroke="#46ff0a"/><circle cx="638.8" cy="72.1" r="1.0" stroke="#4bff32"/><circle cx="623.2" cy="105.3" r="1.0" stroke="#1400ff"/><circle cx="626.3" cy="80.4" r="1.0" stroke="#64ff8c"/><circle cx="620.0" cy="112.5" r="1.0" stroke="#1400ff"/><circle cx="627.7" cy="92.9" r="1.0" stroke="#73ffff"/><circle cx="626.4" cy="95.8" r="1.0" stroke="#73ffff"/><circle cx="632.8" cy="74.5" r="1.0" stroke="#41ff1e"/><circle cx="619.8" cy="94.7" r="1.0" stroke="#4b91ff"/><circle cx="613.7" cy="99.5" r="1.0" stroke="#73ffff"/><circle cx="631.9" cy="70.5" r="1.0" stroke="#64ff14"/><circle cx="650.9" cy="64.7" r="1.0" stroke="#64ff14"/><circle cx="609.9" cy="108.2" r="1.0" stroke="#55afff"/><circle cx="636.8" cy="74.3" r="1.0" stroke="#46ff0a"/><circle cx="605.0" cy="125.5" r="1.0" stroke="#416eff"/><circle cx="626.3" cy="80.0" r="1.0" stroke="#78ffe1"/><circle cx="614.7" cy="105.8" r="1.0" stroke="#64cdff"/><circle cx="625.9" cy="97.6" r="1.0" stroke="#64cdff"/><circle cx="618.9" cy="102.8" r="1.0" stroke="#1400ff"/><circle cx="611.2" cy="122.7" r="1.0" stroke="#3732ff"/><circle cx="619.0" cy="96.6" r="1.0" stroke="#64cdff"/><circle cx="607.3" cy="125.2" r="1.0" stroke="#1400ff"/><circle cx="635.4" cy="68.7" r="1.0" stroke="#55ff0f"/><circle cx="633.3" cy="71.5" r="1.0" stroke="#41ff1e"/><circle cx="606.5" cy="123.2" r="1.0" stroke="#4b91ff"/><circle cx="607.4" cy="124.6" r="1.0" stroke="#1400ff"/><circle cx="626.6" cy="81.8" r="1.0" stroke="#64ff8c"/><circle cx="618.7" cy="120.6" r="1.0" stroke="#3732ff"/><circle cx="628.4" cy="93.3" r="1.0" stroke="#64cdff"/><circle cx="623.8" cy="101.0" r="1.0" stroke="#1400ff"/><circle cx="620.4" cy="93.2" r="1.0" stroke="#4b91ff"/><circle cx="633.9" cy="81.0" r="1.0" stroke="#64ff8c"/><circle cx="602.3" cy="129.1" r="1.0" stroke="#416eff"/><circle cx="614.9" cy="111.2" r="1.0" stroke="#4b91ff"/><circle cx="625.0" cy="71.8" r="1.0" stroke="#64ff8c"/><circle cx="608.9" cy="116.0" r="1.0" stroke="#416eff"/><circle cx="634.6" cy="65.3" r="1.0" stroke="#55ff0f"/><circle cx="659.4" cy="66.6" r="1.0" stroke="#41ff05"/><circle cx="644.3" cy="61.2" r="1.0" stroke="#f08228"/><circle cx="627.0" cy="104.5" r="1.0" stroke="#1400ff"/><circle cx="651.3" cy="75.4" r="1.0" stroke="#4bff32"/><circle cx="634.1" cy="59.7" r="1.0" stroke="#ee9b2d"/><circle cx="615.5" cy="118.7" r="1.0" stroke="#416eff"/><circle cx="610.2" cy="97.1" r="1.0" stroke="#55afff"/><circle cx="619.0" cy="84.6" r="1.0" stroke="#73ffff"/><circle cx="639.6" cy="57.6" r="1.0" stroke="#f0e146"/><circle cx="613.7" cy="109.3" r="1.0" stroke="#55afff"/><circle cx="614.3" cy="113.6" r="1.0" stroke="#1400ff"/><circle cx="636.0" cy="59.2" r="1.0" stroke="#f08228"/><circle cx="640.0" cy="74.7" r="1.0" stroke="#55ff0f"/><circle cx="630.0" cy="82.8" r="1.0" stroke="#73ffc8"/><circle cx="606.7" cy="96.1" r="1.0" stroke="#1400ff"/><circle cx="601.2" cy="130.1" r="1.0" stroke="#1400ff"/><circle cx="625.6" cy="102.2" r="1.0" stroke="#416eff"/><circle cx="625.7" cy="87.3" r="1.0" stroke="#4b91ff"/><circle cx="621.1" cy="110.7" r="1.0" stroke="#64cdff"/><circle cx="627.2" cy="105.7" r="1.0" stroke="#1400ff"/><circle cx="607.2" cy="86.5" r="1.0" stroke="#78fffa"/><circle cx="635.6" cy="95.6" r="1.0" stroke="#55afff"/><circle cx="633.1" cy="92.5" r="1.0" stroke="#55afff"/><circle cx="623.4" cy="93.4" r="1.0" stroke="#4b91ff"/><circle cx="666.2" cy="55.0" r="1.0" stroke="#f0641e"/><circle cx="631.6" cy="90.4" r="1.0" stroke="#64cdff"/><circle cx="614.0" cy="103.2" r="1.0" stroke="#1400ff"/><circle cx="615.6" cy="114.7" r="1.0" stroke="#1400ff"/><circle cx="621.2" cy="105.5" r="1.0" stroke="#64cdff"/><circle cx="610.4" cy="126.8" r="1.0" stroke="#3732ff"/><circle cx="649.5" cy="78.6" r="1.0" stroke="#6effaf"/><circle cx="613.0" cy="91.8" r="1.0" stroke="#78fffa"/><circle cx="652.8" cy="78.1" r="1.0" stroke="#41ff1e"/><circle cx="631.4" cy="83.6" r="1.0" stroke="#55ff5a"/><circle cx="622.4" cy="72.9" r="1.0" stroke="#73ffc8"/><circle cx="630.3" cy="74.2" r="1.0" stroke="#41ff05"/><circle cx="616.3" cy="98.2" r="1.0" stroke="#55afff"/><circle cx="608.4" cy="103.7" r="1.0" stroke="#3732ff"/><circle cx="597.0" cy="128.7" r="1.0" stroke="#1400ff"/><circle cx="633.5" cy="59.0" r="1.0" stroke="#ee9b2d"/><circle cx="647.5" cy="60.1" r="1.0" stroke="#f5fa46"/><circle cx="616.8" cy="114.3" r="1.0" stroke="#416eff"/><circle cx="610.1" cy="99.4" r="1.0" stroke="#55afff"/><circle cx="602.9" cy="121.8" r="1.0" stroke="#416eff"/><circle cx="643.1" cy="76.2" r="1.0" stroke="#64ff8c"/><circle cx="638.2" cy="83.8" r="1.0" stroke="#55ff5a"/><circle cx="597.4" cy="99.6" r="1.0" stroke="#416eff"/><circle cx="638.5" cy="72.8" r="1.0" stroke="#46ff0a"/><circle cx="613.2" cy="80.0" r="1.0" stroke="#55afff"/><circle cx="633.0" cy="78.7" r="1.0" stroke="#41ff1e"/><circle cx="619.4" cy="97.8" r="1.0" stroke="#1400ff"/><circle cx="620.2" cy="107.7" r="1.0" stroke="#4b91ff"/><circle cx="617.7" cy="95.2" r="1.0" stroke="#64cdff"/><circle cx="602.3" cy="132.5" r="1.0" stroke="#1400ff"/><circle cx="616.8" cy="115.7" r="1.0" stroke="#3732ff"/><circle cx="592.9" cy="136.1" r="1.0" stroke="#1400ff"/><circle cx="629.4" cy="106.2" r="1.0" stroke="#1400ff"/><circle cx="630.8" cy="72.1" r="1.0" stroke="#41ff1e"/><circle cx="629.5" cy="109.3" r="1.0" stroke="#1400ff"/><circle cx="634.4" cy="89.2" r="1.0" stroke="#73ffc8"/><circle cx="631.4" cy="105.0" r="1.0" stroke="#4b91ff"/><circle cx="650.4" cy="66.5" r="1.0" stroke="#41ff1e"/><circle cx="594.9" cy="123.3" r="1.0" stroke="#3732ff"/><circle cx="610.1" cy="108.9" r="1.0" stroke="#64cdff"/><circle cx="641.6" cy="62.6" r="1.0" stroke="#f08228"/><circle cx="629.6" cy="94.7" r="1.0" stroke="#4b91ff"/><circle cx="623.1" cy="91.2" r="1.0" stroke="#4b91ff"/><circle cx="619.3" cy="93.9" r="1.0" stroke="#4b91ff"/><circle cx="636.0" cy="72.3" r="1.0" stroke="#46ff0a"/><circle cx="602.6" cy="97.3" r="1.0" stroke="#64cdff"/><circle cx="617.4" cy="120.4" r="1.0" stroke="#1400ff"/><circle cx="602.3" cy="138.6" r="1.0" stroke="#1400ff"/><circle cx="602.8" cy="129.0" r="1.0" stroke="#1400ff"/><circle cx="608.4" cy="89.3" r="1.0" stroke="#64cdff"/><circle cx="650.1" cy="63.7" r="1.0" stroke="#b9ff32"/><circle cx="617.9" cy="79.0" r="1.0" stroke="#78ffe1"/><circle cx="650.2" cy="82.1" r="1.0" stroke="#46ff0a"/><circle cx="631.2" cy="80.3" r="1.0" stroke="#64ff8c"/><circle cx="634.7" cy="58.8" r="1.0" stroke="#f0641e"/><circle cx="599.6" cy="137.8" r="1.0" stroke="#3732ff"/><circle cx="628.7" cy="81.3" r="1.0" stroke="#64ff8c"/><circle cx="627.6" cy="91.1" r="1.0" stroke="#78fffa"/><circle cx="606.4" cy="128.2" r="1.0" stroke="#3732ff"/><circle cx="614.8" cy="98.3" r="1.0" stroke="#3732ff"/><circle cx="620.8" cy="100.6" r="1.0" stroke="#416eff"/><circle cx="631.0" cy="89.3" r="1.0" stroke="#73ffc8"/><circle cx="619.5" cy="81.4" r="1.0" stroke="#73ffc8"/><circle cx="617.4" cy="92.4" r="1.0" stroke="#73ffff"/><circle cx="618.8" cy="91.9" r="1.0" stroke="#64cdff"/><circle cx="628.3" cy="83.5" r="1.0" stroke="#73ffc8"/><circle cx="621.5" cy="104.0" r="1.0" stroke="#55afff"/><circle cx="621.7" cy="92.7" r="1.0" stroke="#64cdff"/><circle cx="634.6" cy="77.3" r="1.0" stroke="#41ff1e"/><circle cx="623.5" cy="97.4" r="1.0" stroke="#416eff"/><circle cx="604.2" cy="107.8" r="1.0" stroke="#3732ff"/><circle cx="624.4" cy="64.7" r="1.0" stroke="#f08228"/><circle cx="622.5" cy="94.9" r="1.0" stroke="#78fffa"/><circle cx="598.3" cy="141.9" r="1.0" stroke="#1400ff"/><circle cx="604.3" cy="129.2" r="1.0" stroke="#1400ff"/><circle cx="632.5" cy="70.9" r="1.0" stroke="#4bff32"/><circle cx="611.8" cy="117.3" r="1.0" stroke="#4b91ff"/><circle cx="618.7" cy="106.4" r="1.0" stroke="#64cdff"/><circle cx="625.4" cy="91.6" r="1.0" stroke="#64cdff"/><circle cx="641.1" cy="61.0" r="1.0" stroke="#f08228"/><circle cx="623.3" cy="89.7" r="1.0" stroke="#78fffa"/><circle cx="622.4" cy="92.6" r="1.0" stroke="#64cdff"/><circle cx="612.1" cy="95.0" r="1.0" stroke="#55afff"/><circle cx="598.8" cy="133.1" r="1.0" stroke="#3732ff"/><circle cx="621.2" cy="93.9" r="1.0" stroke="#55afff"/><circle cx="638.6" cy="59.8" r="1.0" stroke="#f0e146"/><circle cx="639.4" cy="67.0" r="1.0" stroke="#46ff0a"/><circle cx="623.2" cy="70.8" r="1.0" stroke="#78fffa"/><circle cx="598.7" cy="97.8" r="1.0" stroke="#55afff"/><circle cx="615.3" cy="88.0" r="1.0" stroke="#78ffe1"/><circle cx="635.6" cy="93.5" r="1.0" stroke="#55afff"/><circle cx="618.3" cy="93.2" r="1.0" stroke="#55afff"/><circle cx="661.2" cy="53.8" r="1.0" stroke="#fa230f"/><circle cx="620.3" cy="107.0" r="1.0" stroke="#4b91ff"/><circle cx="626.4" cy="107.7" r="1.0" stroke="#1400ff"/><circle cx="650.9" cy="79.4" r="1.0" stroke="#55ff5a"/><circle cx="608.5" cy="122.8" r="1.0" stroke="#1400ff"/><circle cx="630.5" cy="91.7" r="1.0" stroke="#64cdff"/><circle cx="666.6" cy="57.6" r="1.0" stroke="#f54b19"/><circle cx="595.1" cy="141.6" r="1.0" stroke="#4b91ff"/><circle cx="613.0" cy="96.2" r="1.0" stroke="#3732ff"/><circle cx="653.5" cy="61.9" r="1.0" stroke="#ff190a"/><circle cx="640.4" cy="80.5" r="1.0" stroke="#64ff8c"/><circle cx="632.5" cy="85.2" r="1.0" stroke="#78fffa"/><circle cx="631.4" cy="94.8" r="1.0" stroke="#55afff"/><circle cx="598.5" cy="126.9" r="1.0" stroke="#4b91ff"/><circle cx="606.5" cy="93.7" r="1.0" stroke="#64cdff"/><circle cx="649.6" cy="58.0" r="1.0" stroke="#f54b19"/><circle cx="612.5" cy="124.3" r="1.0" stroke="#3732ff"/><circle cx="651.5" cy="75.5" r="1.0" stroke="#41ff05"/><circle cx="618.2" cy="99.8" r="1.0" stroke="#416eff"/><circle cx="609.7" cy="128.8" r="1.0" stroke="#3732ff"/><circle cx="629.4" cy="108.9" r="1.0" stroke="#55afff"/><circle cx="610.4" cy="90.3" r="1.0" stroke="#64cdff"/><circle cx="650.2" cy="58.5" r="1.0" stroke="#f54b19"/><circle cx="625.8" cy="95.8" r="1.0" stroke="#64cdff"/><circle cx="616.5" cy="100.5" r="1.0" stroke="#416eff"/><circle cx="618.6" cy="118.9" r="1.0" stroke="#1400ff"/></g>
<path d="M566.95,175.50v1.3 M564.30,171.85h-1.3 M569.22,175.50v1.3 M564.30,168.72h-1.3 M571.18,175.50v1.3 M564.30,166.01h-1.3 M572.91,175.50v1.3 M564.30,163.62h-1.3 M574.46,175.50v2.4 M564.30,161.48h-2.4 M584.66,175.50v1.3 M564.30,147.42h-1.3 M590.63,175.50v1.3 M564.30,139.19h-1.3 M594.86,175.50v1.3 M564.30,133.35h-1.3 M598.14,175.50v1.3 M564.30,128.82h-1.3 M600.83,175.50v1.3 M564.30,125.12h-1.3 M603.09,175.50v1.3 M564.30,121.99h-1.3 M605.06,175.50v1.3 M564.30,119.28h-1.3 M606.79,175.50v1.3 M564.30,116.89h-1.3 M608.34,175.50v2.4 M564.30,114.75h-2.4 M618.54,175.50v1.3 M564.30,100.69h-1.3 M624.51,175.50v1.3 M564.30,92.46h-1.3 M628.74,175.50v1.3 M564.30,86.62h-1.3 M632.02,175.50v1.3 M564.30,82.09h-1.3 M634.71,175.50v1.3 M564.30,78.39h-1.3 M636.97,175.50v1.3 M564.30,75.27h-1.3 M638.94,175.50v1.3 M564.30,72.56h-1.3 M640.67,175.50v1.3 M564.30,70.17h-1.3 M642.22,175.50v2.4 M564.30,68.03h-2.4 M652.42,175.50v1.3 M564.30,53.96h-1.3 M658.39,175.50v1.3 M564.30,45.73h-1.3 M662.62,175.50v1.3 M564.30,39.89h-1.3 M665.90,175.50v1.3 M564.30,35.37h-1.3 M668.58,175.50v1.3 M564.30,31.67h-1.3 M670.85,175.50v1.3 M564.30,28.54h-1.3 M672.82,175.50v1.3 M564.30,25.83h-1.3 M674.55,175.50v1.3 M564.30,23.44h-1.3 M676.10,175.50v2.4 M564.30,21.30h-2.4" stroke="#222" stroke-width="0.9" fill="none"/>
<rect x="564.30" y="21.30" width="111.80" height="154.20" fill="none" stroke="#222" stroke-width="1.1"/>
<line x1="564.30" y1="175.50" x2="676.10" y2="21.30" stroke="#111" stroke-width="1.3" stroke-dasharray="4.2 2.6"/>
<line x1="584.7" y1="148.0" x2="666.6" y2="38.4" stroke="#f01010" stroke-width="1.45"/>
<text transform="translate(566.26,190.6) scale(1,1.1)" font-size="12.2">10</text><text x="578.86" y="186.0" font-size="7.2">5</text>
<text transform="translate(544.90,166.78) scale(1,1.1)" font-size="12.2">10</text><text x="557.50" y="161.18" font-size="7.2">5</text>
<text transform="translate(600.14,190.6) scale(1,1.1)" font-size="12.2">10</text><text x="612.74" y="186.0" font-size="7.2">6</text>
<text transform="translate(544.90,120.05) scale(1,1.1)" font-size="12.2">10</text><text x="557.50" y="114.45" font-size="7.2">6</text>
<text transform="translate(634.02,190.6) scale(1,1.1)" font-size="12.2">10</text><text x="646.62" y="186.0" font-size="7.2">7</text>
<text transform="translate(544.90,73.33) scale(1,1.1)" font-size="12.2">10</text><text x="557.50" y="67.73" font-size="7.2">7</text>
<text transform="translate(667.90,190.6) scale(1,1.1)" font-size="12.2">10</text><text x="680.50" y="186.0" font-size="7.2">8</text>
<text transform="translate(544.90,26.60) scale(1,1.1)" font-size="12.2">10</text><text x="557.50" y="21.00" font-size="7.2">8</text>
<text x="620.20" y="208.9" font-size="13" text-anchor="middle">SA measurement</text>
<text transform="translate(540.70,98.40) rotate(-90)" font-size="13" text-anchor="middle">Estimation</text>
<text transform="translate(581.20,169.2) scale(0.88,1)" font-size="11.8" fill="#222">1:1</text>
<text transform="translate(33.30,13.60) scale(1,1.06)" font-size="15.2">(a)</text>
<text transform="translate(211.20,13.70) scale(1,1.06)" font-size="15.2">(b)</text>
<text transform="translate(388.50,12.90) scale(1,1.06)" font-size="15.2">(c)</text>
<text transform="translate(565.20,11.70) scale(1,1.06)" font-size="15.2">(d)</text>
<text transform="translate(78.40,13.5) scale(1,1.17)" font-size="13.2" font-weight="bold">N</text>
<text transform="translate(252.20,13.5) scale(1,1.17)" font-size="13.2" font-weight="bold">N</text>
<text x="261.70" y="17.6" font-size="10.2" font-weight="bold">-PM</text>
<text transform="translate(434.80,13.5) scale(1,1.17)" font-size="13.2" font-weight="bold">A</text>
<text x="444.30" y="17.6" font-size="10.2" font-weight="bold">2</text>
<text transform="translate(600.00,13.5) scale(1,1.17)" font-size="13.2" font-weight="bold">A</text>
<text x="609.50" y="17.6" font-size="10.2" font-weight="bold">2-PM</text>
<text x="391.20" y="33.9" font-size="11.6">R=0.89</text>
<text x="391.20" y="47.9" font-size="11.6">RE=0.39</text>
<text x="426.40" y="152.4" font-size="11.6" fill="#f00">Slope=0.95</text>
<text x="425.80" y="167.1" font-size="11.6" fill="#f00">Intercept=0.25</text>
<text x="567.90" y="33.9" font-size="11.6">R=0.90</text>
<text x="567.90" y="47.9" font-size="11.6">RE=0.39</text>
<text x="604.40" y="152.4" font-size="11.6" fill="#f00">Slope=0.97</text>
<text x="604.40" y="167.1" font-size="11.6" fill="#f00">Intercept=0.15</text>
<rect x="282.5" y="226.0" width="130" height="14.2" fill="#fff"/>
<rect x="286.00" y="226.0" width="4.4" height="14.2" fill="#ff190a"/>
<rect x="289.70" y="226.0" width="4.4" height="14.2" fill="#fa230f"/>
<rect x="293.40" y="226.0" width="4.4" height="14.2" fill="#f54b19"/>
<rect x="297.10" y="226.0" width="4.4" height="14.2" fill="#f0641e"/>
<rect x="300.80" y="226.0" width="4.4" height="14.2" fill="#f08228"/>
<rect x="304.50" y="226.0" width="4.4" height="14.2" fill="#ee9b2d"/>
<rect x="308.20" y="226.0" width="4.4" height="14.2" fill="#ebb937"/>
<rect x="311.90" y="226.0" width="4.4" height="14.2" fill="#f0e146"/>
<rect x="315.60" y="226.0" width="4.4" height="14.2" fill="#f5fa46"/>
<rect x="319.30" y="226.0" width="4.4" height="14.2" fill="#e6ff3c"/>
<rect x="323.00" y="226.0" width="4.4" height="14.2" fill="#c8ff37"/>
<rect x="326.70" y="226.0" width="4.4" height="14.2" fill="#b9ff32"/>
<rect x="330.40" y="226.0" width="4.4" height="14.2" fill="#8cff23"/>
<rect x="334.10" y="226.0" width="4.4" height="14.2" fill="#64ff14"/>
<rect x="337.80" y="226.0" width="4.4" height="14.2" fill="#55ff0f"/>
<rect x="341.50" y="226.0" width="4.4" height="14.2" fill="#46ff0a"/>
<rect x="345.20" y="226.0" width="4.4" height="14.2" fill="#41ff05"/>
<rect x="348.90" y="226.0" width="4.4" height="14.2" fill="#41ff1e"/>
<rect x="352.60" y="226.0" width="4.4" height="14.2" fill="#4bff32"/>
<rect x="356.30" y="226.0" width="4.4" height="14.2" fill="#55ff5a"/>
<rect x="360.00" y="226.0" width="4.4" height="14.2" fill="#64ff8c"/>
<rect x="363.70" y="226.0" width="4.4" height="14.2" fill="#6effaf"/>
<rect x="367.40" y="226.0" width="4.4" height="14.2" fill="#73ffc8"/>
<rect x="371.10" y="226.0" width="4.4" height="14.2" fill="#78ffe1"/>
<rect x="374.80" y="226.0" width="4.4" height="14.2" fill="#78fffa"/>
<rect x="378.50" y="226.0" width="4.4" height="14.2" fill="#73ffff"/>
<rect x="382.20" y="226.0" width="4.4" height="14.2" fill="#64cdff"/>
<rect x="385.90" y="226.0" width="4.4" height="14.2" fill="#55afff"/>
<rect x="389.60" y="226.0" width="4.4" height="14.2" fill="#4b91ff"/>
<rect x="393.30" y="226.0" width="4.4" height="14.2" fill="#416eff"/>
<rect x="397.00" y="226.0" width="4.4" height="14.2" fill="#3732ff"/>
<rect x="400.70" y="226.0" width="4.4" height="14.2" fill="#1400ff"/>
<rect x="404.40" y="226.0" width="3.7" height="14.2" fill="#1400ff"/>
<rect x="408.1" y="226.0" width="4.4" height="14.2" fill="#c8c8c4"/>
<rect x="282.5" y="226.0" width="130" height="14.2" fill="none" stroke="#333" stroke-width="1"/>
<text x="349.7" y="222.2" font-size="11.9" text-anchor="middle">SR</text>
<text x="297.40" y="255.1" font-size="12.2" text-anchor="middle">610</text>
<line x1="297.4" y1="240.2" x2="297.4" y2="242.2" stroke="#333" stroke-width="0.9"/>
<text x="334.20" y="255.1" font-size="12.2" text-anchor="middle">410</text>
<line x1="334.2" y1="240.2" x2="334.2" y2="242.2" stroke="#333" stroke-width="0.9"/>
<text x="371.50" y="255.1" font-size="12.2" text-anchor="middle">210</text>
<line x1="371.5" y1="240.2" x2="371.5" y2="242.2" stroke="#333" stroke-width="0.9"/>
<text x="408.70" y="255.1" font-size="12.2" text-anchor="middle">10</text>
<line x1="408.7" y1="240.2" x2="408.7" y2="242.2" stroke="#333" stroke-width="0.9"/>
</svg>
</body></html>
